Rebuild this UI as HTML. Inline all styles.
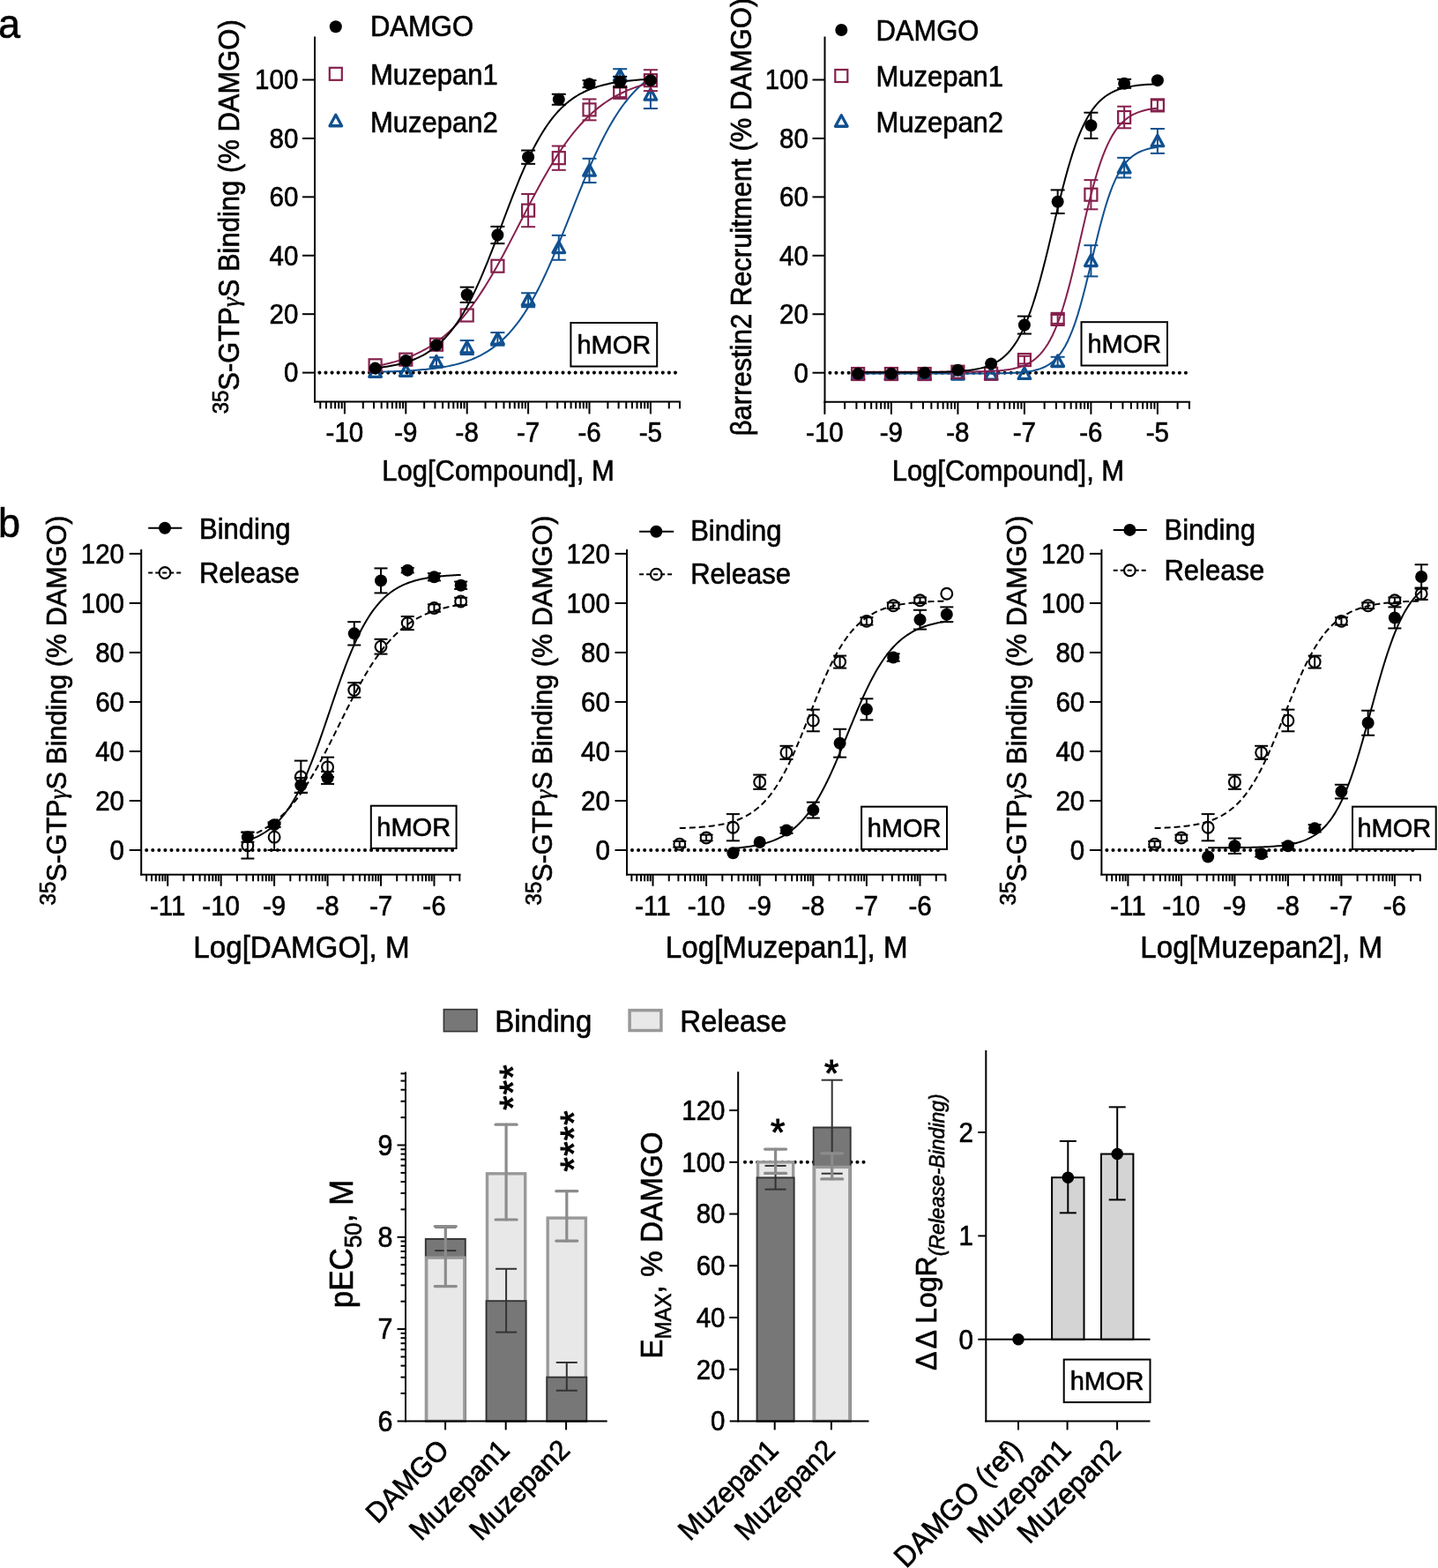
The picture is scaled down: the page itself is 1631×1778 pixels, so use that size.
<!DOCTYPE html><html><head><meta charset="utf-8"><style>html,body{margin:0;padding:0;background:#fff;}svg{display:block}</style></head><body><svg width="1631" height="1778" viewBox="0 0 1631 1778" font-family='"Liberation Sans", Arial, Helvetica, sans-serif'>
<style>text{stroke:#000;stroke-width:0.6px}text.st{stroke-width:1.0px}</style>
<rect width="1631" height="1778" fill="#fff"/>
<text transform="translate(-2,42.5) scale(1,1.045)" font-size="45" text-anchor="start" fill="#000" >a</text>
<line x1="357" y1="41.4" x2="357" y2="456.4" stroke="#000" stroke-width="2.0" />
<line x1="343" y1="422.6" x2="357" y2="422.6" stroke="#000" stroke-width="2.0" />
<text transform="translate(338.3,433.49) scale(1,1.07)" font-size="29.5" text-anchor="end" fill="#000" >0</text>
<line x1="343" y1="356.18" x2="357" y2="356.18" stroke="#000" stroke-width="2.0" />
<text transform="translate(338.3,367.07) scale(1,1.07)" font-size="29.5" text-anchor="end" fill="#000" >20</text>
<line x1="343" y1="289.76" x2="357" y2="289.76" stroke="#000" stroke-width="2.0" />
<text transform="translate(338.3,300.65) scale(1,1.07)" font-size="29.5" text-anchor="end" fill="#000" >40</text>
<line x1="343" y1="223.34" x2="357" y2="223.34" stroke="#000" stroke-width="2.0" />
<text transform="translate(338.3,234.23) scale(1,1.07)" font-size="29.5" text-anchor="end" fill="#000" >60</text>
<line x1="343" y1="156.92" x2="357" y2="156.92" stroke="#000" stroke-width="2.0" />
<text transform="translate(338.3,167.81) scale(1,1.07)" font-size="29.5" text-anchor="end" fill="#000" >80</text>
<line x1="343" y1="90.5" x2="357" y2="90.5" stroke="#000" stroke-width="2.0" />
<text transform="translate(338.3,101.39) scale(1,1.07)" font-size="29.5" text-anchor="end" fill="#000" >100</text>
<line x1="356" y1="455.4" x2="771.9" y2="455.4" stroke="#000" stroke-width="2.0" />
<line x1="363.28" y1="455.4" x2="363.28" y2="463.4" stroke="#000" stroke-width="2.0" />
<line x1="370.01" y1="455.4" x2="370.01" y2="463.4" stroke="#000" stroke-width="2.0" />
<line x1="375.5" y1="455.4" x2="375.5" y2="463.4" stroke="#000" stroke-width="2.0" />
<line x1="380.15" y1="455.4" x2="380.15" y2="463.4" stroke="#000" stroke-width="2.0" />
<line x1="384.17" y1="455.4" x2="384.17" y2="463.4" stroke="#000" stroke-width="2.0" />
<line x1="387.72" y1="455.4" x2="387.72" y2="463.4" stroke="#000" stroke-width="2.0" />
<line x1="390.9" y1="455.4" x2="390.9" y2="469.4" stroke="#000" stroke-width="2.0" />
<line x1="411.79" y1="455.4" x2="411.79" y2="463.4" stroke="#000" stroke-width="2.0" />
<line x1="424.01" y1="455.4" x2="424.01" y2="463.4" stroke="#000" stroke-width="2.0" />
<line x1="432.68" y1="455.4" x2="432.68" y2="463.4" stroke="#000" stroke-width="2.0" />
<line x1="439.41" y1="455.4" x2="439.41" y2="463.4" stroke="#000" stroke-width="2.0" />
<line x1="444.9" y1="455.4" x2="444.9" y2="463.4" stroke="#000" stroke-width="2.0" />
<line x1="449.55" y1="455.4" x2="449.55" y2="463.4" stroke="#000" stroke-width="2.0" />
<line x1="453.57" y1="455.4" x2="453.57" y2="463.4" stroke="#000" stroke-width="2.0" />
<line x1="457.12" y1="455.4" x2="457.12" y2="463.4" stroke="#000" stroke-width="2.0" />
<line x1="460.3" y1="455.4" x2="460.3" y2="469.4" stroke="#000" stroke-width="2.0" />
<line x1="481.19" y1="455.4" x2="481.19" y2="463.4" stroke="#000" stroke-width="2.0" />
<line x1="493.41" y1="455.4" x2="493.41" y2="463.4" stroke="#000" stroke-width="2.0" />
<line x1="502.08" y1="455.4" x2="502.08" y2="463.4" stroke="#000" stroke-width="2.0" />
<line x1="508.81" y1="455.4" x2="508.81" y2="463.4" stroke="#000" stroke-width="2.0" />
<line x1="514.3" y1="455.4" x2="514.3" y2="463.4" stroke="#000" stroke-width="2.0" />
<line x1="518.95" y1="455.4" x2="518.95" y2="463.4" stroke="#000" stroke-width="2.0" />
<line x1="522.97" y1="455.4" x2="522.97" y2="463.4" stroke="#000" stroke-width="2.0" />
<line x1="526.52" y1="455.4" x2="526.52" y2="463.4" stroke="#000" stroke-width="2.0" />
<line x1="529.7" y1="455.4" x2="529.7" y2="469.4" stroke="#000" stroke-width="2.0" />
<line x1="550.59" y1="455.4" x2="550.59" y2="463.4" stroke="#000" stroke-width="2.0" />
<line x1="562.81" y1="455.4" x2="562.81" y2="463.4" stroke="#000" stroke-width="2.0" />
<line x1="571.48" y1="455.4" x2="571.48" y2="463.4" stroke="#000" stroke-width="2.0" />
<line x1="578.21" y1="455.4" x2="578.21" y2="463.4" stroke="#000" stroke-width="2.0" />
<line x1="583.7" y1="455.4" x2="583.7" y2="463.4" stroke="#000" stroke-width="2.0" />
<line x1="588.35" y1="455.4" x2="588.35" y2="463.4" stroke="#000" stroke-width="2.0" />
<line x1="592.37" y1="455.4" x2="592.37" y2="463.4" stroke="#000" stroke-width="2.0" />
<line x1="595.92" y1="455.4" x2="595.92" y2="463.4" stroke="#000" stroke-width="2.0" />
<line x1="599.1" y1="455.4" x2="599.1" y2="469.4" stroke="#000" stroke-width="2.0" />
<line x1="619.99" y1="455.4" x2="619.99" y2="463.4" stroke="#000" stroke-width="2.0" />
<line x1="632.21" y1="455.4" x2="632.21" y2="463.4" stroke="#000" stroke-width="2.0" />
<line x1="640.88" y1="455.4" x2="640.88" y2="463.4" stroke="#000" stroke-width="2.0" />
<line x1="647.61" y1="455.4" x2="647.61" y2="463.4" stroke="#000" stroke-width="2.0" />
<line x1="653.1" y1="455.4" x2="653.1" y2="463.4" stroke="#000" stroke-width="2.0" />
<line x1="657.75" y1="455.4" x2="657.75" y2="463.4" stroke="#000" stroke-width="2.0" />
<line x1="661.77" y1="455.4" x2="661.77" y2="463.4" stroke="#000" stroke-width="2.0" />
<line x1="665.32" y1="455.4" x2="665.32" y2="463.4" stroke="#000" stroke-width="2.0" />
<line x1="668.5" y1="455.4" x2="668.5" y2="469.4" stroke="#000" stroke-width="2.0" />
<line x1="689.39" y1="455.4" x2="689.39" y2="463.4" stroke="#000" stroke-width="2.0" />
<line x1="701.61" y1="455.4" x2="701.61" y2="463.4" stroke="#000" stroke-width="2.0" />
<line x1="710.28" y1="455.4" x2="710.28" y2="463.4" stroke="#000" stroke-width="2.0" />
<line x1="717.01" y1="455.4" x2="717.01" y2="463.4" stroke="#000" stroke-width="2.0" />
<line x1="722.5" y1="455.4" x2="722.5" y2="463.4" stroke="#000" stroke-width="2.0" />
<line x1="727.15" y1="455.4" x2="727.15" y2="463.4" stroke="#000" stroke-width="2.0" />
<line x1="731.17" y1="455.4" x2="731.17" y2="463.4" stroke="#000" stroke-width="2.0" />
<line x1="734.72" y1="455.4" x2="734.72" y2="463.4" stroke="#000" stroke-width="2.0" />
<line x1="737.9" y1="455.4" x2="737.9" y2="469.4" stroke="#000" stroke-width="2.0" />
<line x1="758.79" y1="455.4" x2="758.79" y2="463.4" stroke="#000" stroke-width="2.0" />
<line x1="771.01" y1="455.4" x2="771.01" y2="463.4" stroke="#000" stroke-width="2.0" />
<text transform="translate(390.9,501.2) scale(1,1.07)" font-size="29.5" text-anchor="middle" fill="#000" >-10</text>
<text transform="translate(460.3,501.2) scale(1,1.07)" font-size="29.5" text-anchor="middle" fill="#000" >-9</text>
<text transform="translate(529.7,501.2) scale(1,1.07)" font-size="29.5" text-anchor="middle" fill="#000" >-8</text>
<text transform="translate(599.1,501.2) scale(1,1.07)" font-size="29.5" text-anchor="middle" fill="#000" >-7</text>
<text transform="translate(668.5,501.2) scale(1,1.07)" font-size="29.5" text-anchor="middle" fill="#000" >-6</text>
<text transform="translate(737.9,501.2) scale(1,1.07)" font-size="29.5" text-anchor="middle" fill="#000" >-5</text>
<text transform="translate(565,544.6) scale(1,1.045)" font-size="31" text-anchor="middle" fill="#000" >Log[Compound], M</text>
<line x1="935.5" y1="41.4" x2="935.5" y2="456.8" stroke="#000" stroke-width="2.0" />
<line x1="921.5" y1="422.7" x2="935.5" y2="422.7" stroke="#000" stroke-width="2.0" />
<text transform="translate(916.9,433.59) scale(1,1.07)" font-size="29.5" text-anchor="end" fill="#000" >0</text>
<line x1="921.5" y1="356.26" x2="935.5" y2="356.26" stroke="#000" stroke-width="2.0" />
<text transform="translate(916.9,367.15) scale(1,1.07)" font-size="29.5" text-anchor="end" fill="#000" >20</text>
<line x1="921.5" y1="289.82" x2="935.5" y2="289.82" stroke="#000" stroke-width="2.0" />
<text transform="translate(916.9,300.71) scale(1,1.07)" font-size="29.5" text-anchor="end" fill="#000" >40</text>
<line x1="921.5" y1="223.38" x2="935.5" y2="223.38" stroke="#000" stroke-width="2.0" />
<text transform="translate(916.9,234.27) scale(1,1.07)" font-size="29.5" text-anchor="end" fill="#000" >60</text>
<line x1="921.5" y1="156.94" x2="935.5" y2="156.94" stroke="#000" stroke-width="2.0" />
<text transform="translate(916.9,167.83) scale(1,1.07)" font-size="29.5" text-anchor="end" fill="#000" >80</text>
<line x1="921.5" y1="90.5" x2="935.5" y2="90.5" stroke="#000" stroke-width="2.0" />
<text transform="translate(916.9,101.39) scale(1,1.07)" font-size="29.5" text-anchor="end" fill="#000" >100</text>
<line x1="934.5" y1="455.8" x2="1350.1" y2="455.8" stroke="#000" stroke-width="2.0" />
<line x1="935.4" y1="455.8" x2="935.4" y2="469.8" stroke="#000" stroke-width="2.0" />
<line x1="958.13" y1="455.8" x2="958.13" y2="463.8" stroke="#000" stroke-width="2.0" />
<line x1="971.42" y1="455.8" x2="971.42" y2="463.8" stroke="#000" stroke-width="2.0" />
<line x1="980.86" y1="455.8" x2="980.86" y2="463.8" stroke="#000" stroke-width="2.0" />
<line x1="988.17" y1="455.8" x2="988.17" y2="463.8" stroke="#000" stroke-width="2.0" />
<line x1="994.15" y1="455.8" x2="994.15" y2="463.8" stroke="#000" stroke-width="2.0" />
<line x1="999.2" y1="455.8" x2="999.2" y2="463.8" stroke="#000" stroke-width="2.0" />
<line x1="1003.58" y1="455.8" x2="1003.58" y2="463.8" stroke="#000" stroke-width="2.0" />
<line x1="1007.45" y1="455.8" x2="1007.45" y2="463.8" stroke="#000" stroke-width="2.0" />
<line x1="1010.9" y1="455.8" x2="1010.9" y2="469.8" stroke="#000" stroke-width="2.0" />
<line x1="1033.63" y1="455.8" x2="1033.63" y2="463.8" stroke="#000" stroke-width="2.0" />
<line x1="1046.92" y1="455.8" x2="1046.92" y2="463.8" stroke="#000" stroke-width="2.0" />
<line x1="1056.36" y1="455.8" x2="1056.36" y2="463.8" stroke="#000" stroke-width="2.0" />
<line x1="1063.67" y1="455.8" x2="1063.67" y2="463.8" stroke="#000" stroke-width="2.0" />
<line x1="1069.65" y1="455.8" x2="1069.65" y2="463.8" stroke="#000" stroke-width="2.0" />
<line x1="1074.7" y1="455.8" x2="1074.7" y2="463.8" stroke="#000" stroke-width="2.0" />
<line x1="1079.08" y1="455.8" x2="1079.08" y2="463.8" stroke="#000" stroke-width="2.0" />
<line x1="1082.95" y1="455.8" x2="1082.95" y2="463.8" stroke="#000" stroke-width="2.0" />
<line x1="1086.4" y1="455.8" x2="1086.4" y2="469.8" stroke="#000" stroke-width="2.0" />
<line x1="1109.13" y1="455.8" x2="1109.13" y2="463.8" stroke="#000" stroke-width="2.0" />
<line x1="1122.42" y1="455.8" x2="1122.42" y2="463.8" stroke="#000" stroke-width="2.0" />
<line x1="1131.86" y1="455.8" x2="1131.86" y2="463.8" stroke="#000" stroke-width="2.0" />
<line x1="1139.17" y1="455.8" x2="1139.17" y2="463.8" stroke="#000" stroke-width="2.0" />
<line x1="1145.15" y1="455.8" x2="1145.15" y2="463.8" stroke="#000" stroke-width="2.0" />
<line x1="1150.2" y1="455.8" x2="1150.2" y2="463.8" stroke="#000" stroke-width="2.0" />
<line x1="1154.58" y1="455.8" x2="1154.58" y2="463.8" stroke="#000" stroke-width="2.0" />
<line x1="1158.45" y1="455.8" x2="1158.45" y2="463.8" stroke="#000" stroke-width="2.0" />
<line x1="1161.9" y1="455.8" x2="1161.9" y2="469.8" stroke="#000" stroke-width="2.0" />
<line x1="1184.63" y1="455.8" x2="1184.63" y2="463.8" stroke="#000" stroke-width="2.0" />
<line x1="1197.92" y1="455.8" x2="1197.92" y2="463.8" stroke="#000" stroke-width="2.0" />
<line x1="1207.36" y1="455.8" x2="1207.36" y2="463.8" stroke="#000" stroke-width="2.0" />
<line x1="1214.67" y1="455.8" x2="1214.67" y2="463.8" stroke="#000" stroke-width="2.0" />
<line x1="1220.65" y1="455.8" x2="1220.65" y2="463.8" stroke="#000" stroke-width="2.0" />
<line x1="1225.7" y1="455.8" x2="1225.7" y2="463.8" stroke="#000" stroke-width="2.0" />
<line x1="1230.08" y1="455.8" x2="1230.08" y2="463.8" stroke="#000" stroke-width="2.0" />
<line x1="1233.95" y1="455.8" x2="1233.95" y2="463.8" stroke="#000" stroke-width="2.0" />
<line x1="1237.4" y1="455.8" x2="1237.4" y2="469.8" stroke="#000" stroke-width="2.0" />
<line x1="1260.13" y1="455.8" x2="1260.13" y2="463.8" stroke="#000" stroke-width="2.0" />
<line x1="1273.42" y1="455.8" x2="1273.42" y2="463.8" stroke="#000" stroke-width="2.0" />
<line x1="1282.86" y1="455.8" x2="1282.86" y2="463.8" stroke="#000" stroke-width="2.0" />
<line x1="1290.17" y1="455.8" x2="1290.17" y2="463.8" stroke="#000" stroke-width="2.0" />
<line x1="1296.15" y1="455.8" x2="1296.15" y2="463.8" stroke="#000" stroke-width="2.0" />
<line x1="1301.2" y1="455.8" x2="1301.2" y2="463.8" stroke="#000" stroke-width="2.0" />
<line x1="1305.58" y1="455.8" x2="1305.58" y2="463.8" stroke="#000" stroke-width="2.0" />
<line x1="1309.45" y1="455.8" x2="1309.45" y2="463.8" stroke="#000" stroke-width="2.0" />
<line x1="1312.9" y1="455.8" x2="1312.9" y2="469.8" stroke="#000" stroke-width="2.0" />
<line x1="1335.63" y1="455.8" x2="1335.63" y2="463.8" stroke="#000" stroke-width="2.0" />
<line x1="1348.92" y1="455.8" x2="1348.92" y2="463.8" stroke="#000" stroke-width="2.0" />
<text transform="translate(935.4,501.2) scale(1,1.07)" font-size="29.5" text-anchor="middle" fill="#000" >-10</text>
<text transform="translate(1010.9,501.2) scale(1,1.07)" font-size="29.5" text-anchor="middle" fill="#000" >-9</text>
<text transform="translate(1086.4,501.2) scale(1,1.07)" font-size="29.5" text-anchor="middle" fill="#000" >-8</text>
<text transform="translate(1161.9,501.2) scale(1,1.07)" font-size="29.5" text-anchor="middle" fill="#000" >-7</text>
<text transform="translate(1237.4,501.2) scale(1,1.07)" font-size="29.5" text-anchor="middle" fill="#000" >-6</text>
<text transform="translate(1312.9,501.2) scale(1,1.07)" font-size="29.5" text-anchor="middle" fill="#000" >-5</text>
<text transform="translate(1143.4,544.6) scale(1,1.045)" font-size="31" text-anchor="middle" fill="#000" >Log[Compound], M</text>
<line x1="362.4" y1="422.6" x2="768" y2="422.6" stroke="#000" stroke-width="4.1" stroke-linecap="round" stroke-dasharray="0 7.08"/>
<line x1="941.4" y1="422.7" x2="1346" y2="422.7" stroke="#000" stroke-width="4.1" stroke-linecap="round" stroke-dasharray="0 7.08"/>
<rect x="647.4" y="366" width="97.8" height="49.5" fill="#fff" stroke="#000" stroke-width="2.0"/>
<text transform="translate(696.3,400.75) scale(1,1.045)" font-size="29" text-anchor="middle" fill="#000" >hMOR</text>
<rect x="1226.5" y="365.2" width="97.5" height="49.3" fill="#fff" stroke="#000" stroke-width="2.0"/>
<text transform="translate(1275.25,399.86) scale(1,1.045)" font-size="29" text-anchor="middle" fill="#000" >hMOR</text>
<path d="M425.6,421.73 L428.2,421.67 L430.8,421.61 L433.41,421.55 L436.01,421.48 L438.61,421.41 L441.21,421.33 L443.82,421.25 L446.42,421.15 L449.02,421.06 L451.62,420.95 L454.23,420.84 L456.83,420.72 L459.43,420.59 L462.04,420.45 L464.64,420.3 L467.24,420.13 L469.84,419.96 L472.45,419.77 L475.05,419.57 L477.65,419.36 L480.25,419.12 L482.85,418.88 L485.46,418.61 L488.06,418.32 L490.66,418.01 L493.26,417.68 L495.87,417.33 L498.47,416.95 L501.07,416.54 L503.67,416.1 L506.28,415.63 L508.88,415.12 L511.48,414.58 L514.09,414 L516.69,413.38 L519.29,412.71 L521.89,412 L524.5,411.23 L527.1,410.41 L529.7,409.54 L532.3,408.6 L534.9,407.6 L537.51,406.52 L540.11,405.38 L542.71,404.15 L545.31,402.85 L547.92,401.45 L550.52,399.96 L553.12,398.38 L555.73,396.69 L558.33,394.89 L560.93,392.98 L563.53,390.95 L566.13,388.8 L568.74,386.51 L571.34,384.08 L573.94,381.51 L576.54,378.8 L579.15,375.92 L581.75,372.89 L584.35,369.7 L586.96,366.33 L589.56,362.8 L592.16,359.08 L594.76,355.19 L597.37,351.11 L599.97,346.86 L602.57,342.41 L605.17,337.79 L607.77,332.98 L610.38,327.99 L612.98,322.83 L615.58,317.49 L618.19,311.99 L620.79,306.33 L623.39,300.52 L625.99,294.58 L628.6,288.5 L631.2,282.32 L633.8,276.03 L636.4,269.65 L639,263.2 L641.61,256.7 L644.21,250.15 L646.81,243.59 L649.41,237.02 L652.02,230.46 L654.62,223.94 L657.22,217.46 L659.83,211.04 L662.43,204.71 L665.03,198.47 L667.63,192.33 L670.24,186.32 L672.84,180.44 L675.44,174.71 L678.04,169.13 L680.64,163.71 L683.25,158.45 L685.85,153.38 L688.45,148.48 L691.06,143.76 L693.66,139.22 L696.26,134.87 L698.86,130.7 L701.46,126.72 L704.07,122.91 L706.67,119.29 L709.27,115.83 L711.88,112.55 L714.48,109.44 L717.08,106.49 L719.68,103.69 L722.29,101.05 L724.89,98.55 L727.49,96.2 L730.09,93.97 L732.69,91.88 L735.3,89.91 L737.9,88.05" fill="none" stroke="#10508f" stroke-width="2"/>
<line x1="495" y1="405.33" x2="495" y2="415.29" stroke="#10508f" stroke-width="2" stroke-linecap="butt"/>
<line x1="487" y1="405.33" x2="503" y2="405.33" stroke="#10508f" stroke-width="2" stroke-linecap="butt"/>
<line x1="487" y1="415.29" x2="503" y2="415.29" stroke="#10508f" stroke-width="2" stroke-linecap="butt"/>
<line x1="529.7" y1="386.07" x2="529.7" y2="402.01" stroke="#10508f" stroke-width="2" stroke-linecap="butt"/>
<line x1="521.7" y1="386.07" x2="537.7" y2="386.07" stroke="#10508f" stroke-width="2" stroke-linecap="butt"/>
<line x1="521.7" y1="402.01" x2="537.7" y2="402.01" stroke="#10508f" stroke-width="2" stroke-linecap="butt"/>
<line x1="564.4" y1="377.1" x2="564.4" y2="391.71" stroke="#10508f" stroke-width="2" stroke-linecap="butt"/>
<line x1="556.4" y1="377.1" x2="572.4" y2="377.1" stroke="#10508f" stroke-width="2" stroke-linecap="butt"/>
<line x1="556.4" y1="391.71" x2="572.4" y2="391.71" stroke="#10508f" stroke-width="2" stroke-linecap="butt"/>
<line x1="599.1" y1="332.27" x2="599.1" y2="348.21" stroke="#10508f" stroke-width="2" stroke-linecap="butt"/>
<line x1="591.1" y1="332.27" x2="607.1" y2="332.27" stroke="#10508f" stroke-width="2" stroke-linecap="butt"/>
<line x1="591.1" y1="348.21" x2="607.1" y2="348.21" stroke="#10508f" stroke-width="2" stroke-linecap="butt"/>
<line x1="633.8" y1="266.85" x2="633.8" y2="294.74" stroke="#10508f" stroke-width="2" stroke-linecap="butt"/>
<line x1="625.8" y1="266.85" x2="641.8" y2="266.85" stroke="#10508f" stroke-width="2" stroke-linecap="butt"/>
<line x1="625.8" y1="294.74" x2="641.8" y2="294.74" stroke="#10508f" stroke-width="2" stroke-linecap="butt"/>
<line x1="668.5" y1="179.83" x2="668.5" y2="207.07" stroke="#10508f" stroke-width="2" stroke-linecap="butt"/>
<line x1="660.5" y1="179.83" x2="676.5" y2="179.83" stroke="#10508f" stroke-width="2" stroke-linecap="butt"/>
<line x1="660.5" y1="207.07" x2="676.5" y2="207.07" stroke="#10508f" stroke-width="2" stroke-linecap="butt"/>
<line x1="703.2" y1="78.21" x2="703.2" y2="92.82" stroke="#10508f" stroke-width="2" stroke-linecap="butt"/>
<line x1="695.2" y1="78.21" x2="711.2" y2="78.21" stroke="#10508f" stroke-width="2" stroke-linecap="butt"/>
<line x1="695.2" y1="92.82" x2="711.2" y2="92.82" stroke="#10508f" stroke-width="2" stroke-linecap="butt"/>
<line x1="737.9" y1="91.83" x2="737.9" y2="123.05" stroke="#10508f" stroke-width="2" stroke-linecap="butt"/>
<line x1="729.9" y1="91.83" x2="745.9" y2="91.83" stroke="#10508f" stroke-width="2" stroke-linecap="butt"/>
<line x1="729.9" y1="123.05" x2="745.9" y2="123.05" stroke="#10508f" stroke-width="2" stroke-linecap="butt"/>
<polygon points="425.6,414.85 418.8,427.36 432.4,427.36" fill="none" stroke="#10508f" stroke-width="3.3" stroke-linejoin="round"/>
<polygon points="460.3,413.85 453.5,426.36 467.1,426.36" fill="none" stroke="#10508f" stroke-width="3.3" stroke-linejoin="round"/>
<polygon points="495,403.55 488.2,416.07 501.8,416.07" fill="none" stroke="#10508f" stroke-width="3.3" stroke-linejoin="round"/>
<polygon points="529.7,387.28 522.9,399.79 536.5,399.79" fill="none" stroke="#10508f" stroke-width="3.3" stroke-linejoin="round"/>
<polygon points="564.4,377.65 557.6,390.16 571.2,390.16" fill="none" stroke="#10508f" stroke-width="3.3" stroke-linejoin="round"/>
<polygon points="599.1,333.48 592.3,345.99 605.9,345.99" fill="none" stroke="#10508f" stroke-width="3.3" stroke-linejoin="round"/>
<polygon points="633.8,274.04 627,286.55 640.6,286.55" fill="none" stroke="#10508f" stroke-width="3.3" stroke-linejoin="round"/>
<polygon points="668.5,186.69 661.7,199.21 675.3,199.21" fill="none" stroke="#10508f" stroke-width="3.3" stroke-linejoin="round"/>
<polygon points="703.2,78.76 696.4,91.27 710,91.27" fill="none" stroke="#10508f" stroke-width="3.3" stroke-linejoin="round"/>
<polygon points="737.9,100.68 731.1,113.19 744.7,113.19" fill="none" stroke="#10508f" stroke-width="3.3" stroke-linejoin="round"/>
<path d="M425.6,415.22 L428.2,414.75 L430.8,414.26 L433.41,413.73 L436.01,413.18 L438.61,412.59 L441.21,411.97 L443.82,411.32 L446.42,410.62 L449.02,409.89 L451.62,409.12 L454.23,408.3 L456.83,407.44 L459.43,406.53 L462.04,405.57 L464.64,404.56 L467.24,403.49 L469.84,402.36 L472.45,401.18 L475.05,399.93 L477.65,398.61 L480.25,397.23 L482.85,395.77 L485.46,394.24 L488.06,392.63 L490.66,390.94 L493.26,389.17 L495.87,387.31 L498.47,385.37 L501.07,383.33 L503.67,381.19 L506.28,378.96 L508.88,376.63 L511.48,374.19 L514.09,371.65 L516.69,369 L519.29,366.24 L521.89,363.36 L524.5,360.38 L527.1,357.28 L529.7,354.07 L532.3,350.74 L534.9,347.29 L537.51,343.73 L540.11,340.06 L542.71,336.27 L545.31,332.36 L547.92,328.35 L550.52,324.24 L553.12,320.01 L555.73,315.69 L558.33,311.27 L560.93,306.76 L563.53,302.17 L566.13,297.49 L568.74,292.74 L571.34,287.93 L573.94,283.05 L576.54,278.13 L579.15,273.16 L581.75,268.15 L584.35,263.12 L586.96,258.07 L589.56,253.02 L592.16,247.96 L594.76,242.91 L597.37,237.88 L599.97,232.87 L602.57,227.9 L605.17,222.97 L607.77,218.1 L610.38,213.28 L612.98,208.53 L615.58,203.85 L618.19,199.26 L620.79,194.74 L623.39,190.32 L625.99,186 L628.6,181.77 L631.2,177.65 L633.8,173.64 L636.4,169.73 L639,165.94 L641.61,162.26 L644.21,158.7 L646.81,155.25 L649.41,151.92 L652.02,148.7 L654.62,145.6 L657.22,142.61 L659.83,139.74 L662.43,136.97 L665.03,134.32 L667.63,131.77 L670.24,129.34 L672.84,127 L675.44,124.76 L678.04,122.63 L680.64,120.58 L683.25,118.63 L685.85,116.77 L688.45,115 L691.06,113.31 L693.66,111.7 L696.26,110.17 L698.86,108.71 L701.46,107.32 L704.07,106 L706.67,104.75 L709.27,103.57 L711.88,102.44 L714.48,101.37 L717.08,100.35 L719.68,99.39 L722.29,98.48 L724.89,97.62 L727.49,96.8 L730.09,96.03 L732.69,95.29 L735.3,94.6 L737.9,93.94" fill="none" stroke="#85204d" stroke-width="2"/>
<line x1="599.1" y1="220.02" x2="599.1" y2="257.21" stroke="#85204d" stroke-width="2" stroke-linecap="butt"/>
<line x1="591.1" y1="220.02" x2="607.1" y2="220.02" stroke="#85204d" stroke-width="2" stroke-linecap="butt"/>
<line x1="591.1" y1="257.21" x2="607.1" y2="257.21" stroke="#85204d" stroke-width="2" stroke-linecap="butt"/>
<line x1="633.8" y1="165.55" x2="633.8" y2="192.79" stroke="#85204d" stroke-width="2" stroke-linecap="butt"/>
<line x1="625.8" y1="165.55" x2="641.8" y2="165.55" stroke="#85204d" stroke-width="2" stroke-linecap="butt"/>
<line x1="625.8" y1="192.79" x2="641.8" y2="192.79" stroke="#85204d" stroke-width="2" stroke-linecap="butt"/>
<line x1="668.5" y1="112.42" x2="668.5" y2="136.33" stroke="#85204d" stroke-width="2" stroke-linecap="butt"/>
<line x1="660.5" y1="112.42" x2="676.5" y2="112.42" stroke="#85204d" stroke-width="2" stroke-linecap="butt"/>
<line x1="660.5" y1="136.33" x2="676.5" y2="136.33" stroke="#85204d" stroke-width="2" stroke-linecap="butt"/>
<line x1="703.2" y1="99.47" x2="703.2" y2="110.09" stroke="#85204d" stroke-width="2" stroke-linecap="butt"/>
<line x1="695.2" y1="99.47" x2="711.2" y2="99.47" stroke="#85204d" stroke-width="2" stroke-linecap="butt"/>
<line x1="695.2" y1="110.09" x2="711.2" y2="110.09" stroke="#85204d" stroke-width="2" stroke-linecap="butt"/>
<line x1="737.9" y1="79.21" x2="737.9" y2="103.12" stroke="#85204d" stroke-width="2" stroke-linecap="butt"/>
<line x1="729.9" y1="79.21" x2="745.9" y2="79.21" stroke="#85204d" stroke-width="2" stroke-linecap="butt"/>
<line x1="729.9" y1="103.12" x2="745.9" y2="103.12" stroke="#85204d" stroke-width="2" stroke-linecap="butt"/>
<rect x="418.6" y="407.3" width="14" height="14" fill="none" stroke="#85204d" stroke-width="2.2"/>
<rect x="453.3" y="400.66" width="14" height="14" fill="none" stroke="#85204d" stroke-width="2.2"/>
<rect x="488" y="383.72" width="14" height="14" fill="none" stroke="#85204d" stroke-width="2.2"/>
<rect x="522.7" y="350.51" width="14" height="14" fill="none" stroke="#85204d" stroke-width="2.2"/>
<rect x="557.4" y="294.72" width="14" height="14" fill="none" stroke="#85204d" stroke-width="2.2"/>
<rect x="592.1" y="231.62" width="14" height="14" fill="none" stroke="#85204d" stroke-width="2.2"/>
<rect x="626.8" y="172.17" width="14" height="14" fill="none" stroke="#85204d" stroke-width="2.2"/>
<rect x="661.5" y="117.37" width="14" height="14" fill="none" stroke="#85204d" stroke-width="2.2"/>
<rect x="696.2" y="97.78" width="14" height="14" fill="none" stroke="#85204d" stroke-width="2.2"/>
<rect x="730.9" y="84.16" width="14" height="14" fill="none" stroke="#85204d" stroke-width="2.2"/>
<path d="M425.6,417.37 L428.2,417.08 L430.8,416.78 L433.41,416.44 L436.01,416.08 L438.61,415.69 L441.21,415.26 L443.82,414.8 L446.42,414.3 L449.02,413.76 L451.62,413.17 L454.23,412.54 L456.83,411.85 L459.43,411.1 L462.04,410.3 L464.64,409.43 L467.24,408.49 L469.84,407.47 L472.45,406.37 L475.05,405.19 L477.65,403.91 L480.25,402.53 L482.85,401.05 L485.46,399.45 L488.06,397.73 L490.66,395.89 L493.26,393.9 L495.87,391.78 L498.47,389.5 L501.07,387.07 L503.67,384.46 L506.28,381.68 L508.88,378.72 L511.48,375.57 L514.09,372.21 L516.69,368.66 L519.29,364.9 L521.89,360.92 L524.5,356.72 L527.1,352.3 L529.7,347.66 L532.3,342.8 L534.9,337.71 L537.51,332.41 L540.11,326.9 L542.71,321.19 L545.31,315.28 L547.92,309.19 L550.52,302.92 L553.12,296.51 L555.73,289.96 L558.33,283.28 L560.93,276.52 L563.53,269.67 L566.13,262.78 L568.74,255.85 L571.34,248.92 L573.94,242.02 L576.54,235.15 L579.15,228.35 L581.75,221.64 L584.35,215.03 L586.96,208.56 L589.56,202.23 L592.16,196.07 L594.76,190.09 L597.37,184.29 L599.97,178.7 L602.57,173.32 L605.17,168.14 L607.77,163.19 L610.38,158.46 L612.98,153.96 L615.58,149.67 L618.19,145.61 L620.79,141.76 L623.39,138.12 L625.99,134.69 L628.6,131.45 L631.2,128.42 L633.8,125.56 L636.4,122.89 L639,120.39 L641.61,118.05 L644.21,115.86 L646.81,113.83 L649.41,111.93 L652.02,110.16 L654.62,108.51 L657.22,106.99 L659.83,105.57 L662.43,104.25 L665.03,103.03 L667.63,101.89 L670.24,100.85 L672.84,99.87 L675.44,98.98 L678.04,98.15 L680.64,97.38 L683.25,96.67 L685.85,96.01 L688.45,95.41 L691.06,94.85 L693.66,94.33 L696.26,93.85 L698.86,93.41 L701.46,93.01 L704.07,92.63 L706.67,92.29 L709.27,91.97 L711.88,91.68 L714.48,91.41 L717.08,91.16 L719.68,90.93 L722.29,90.72 L724.89,90.53 L727.49,90.35 L730.09,90.18 L732.69,90.03 L735.3,89.89 L737.9,89.76" fill="none" stroke="#000" stroke-width="2"/>
<line x1="529.7" y1="325.63" x2="529.7" y2="342.9" stroke="#000" stroke-width="2" stroke-linecap="butt"/>
<line x1="521.7" y1="325.63" x2="537.7" y2="325.63" stroke="#000" stroke-width="2" stroke-linecap="butt"/>
<line x1="521.7" y1="342.9" x2="537.7" y2="342.9" stroke="#000" stroke-width="2" stroke-linecap="butt"/>
<line x1="564.4" y1="256.88" x2="564.4" y2="276.14" stroke="#000" stroke-width="2" stroke-linecap="butt"/>
<line x1="556.4" y1="256.88" x2="572.4" y2="256.88" stroke="#000" stroke-width="2" stroke-linecap="butt"/>
<line x1="556.4" y1="276.14" x2="572.4" y2="276.14" stroke="#000" stroke-width="2" stroke-linecap="butt"/>
<line x1="599.1" y1="170.54" x2="599.1" y2="185.81" stroke="#000" stroke-width="2" stroke-linecap="butt"/>
<line x1="591.1" y1="170.54" x2="607.1" y2="170.54" stroke="#000" stroke-width="2" stroke-linecap="butt"/>
<line x1="591.1" y1="185.81" x2="607.1" y2="185.81" stroke="#000" stroke-width="2" stroke-linecap="butt"/>
<line x1="633.8" y1="106.77" x2="633.8" y2="118.73" stroke="#000" stroke-width="2" stroke-linecap="butt"/>
<line x1="625.8" y1="106.77" x2="641.8" y2="106.77" stroke="#000" stroke-width="2" stroke-linecap="butt"/>
<line x1="625.8" y1="118.73" x2="641.8" y2="118.73" stroke="#000" stroke-width="2" stroke-linecap="butt"/>
<line x1="668.5" y1="91.16" x2="668.5" y2="99.13" stroke="#000" stroke-width="2" stroke-linecap="butt"/>
<line x1="660.5" y1="91.16" x2="676.5" y2="91.16" stroke="#000" stroke-width="2" stroke-linecap="butt"/>
<line x1="660.5" y1="99.13" x2="676.5" y2="99.13" stroke="#000" stroke-width="2" stroke-linecap="butt"/>
<line x1="703.2" y1="86.85" x2="703.2" y2="98.8" stroke="#000" stroke-width="2" stroke-linecap="butt"/>
<line x1="695.2" y1="86.85" x2="711.2" y2="86.85" stroke="#000" stroke-width="2" stroke-linecap="butt"/>
<line x1="695.2" y1="98.8" x2="711.2" y2="98.8" stroke="#000" stroke-width="2" stroke-linecap="butt"/>
<circle cx="425.6" cy="417.62" r="7" fill="#000"/>
<circle cx="460.3" cy="408.98" r="7" fill="#000"/>
<circle cx="495" cy="391.38" r="7" fill="#000"/>
<circle cx="529.7" cy="334.26" r="7" fill="#000"/>
<circle cx="564.4" cy="266.51" r="7" fill="#000"/>
<circle cx="599.1" cy="178.17" r="7" fill="#000"/>
<circle cx="633.8" cy="112.75" r="7" fill="#000"/>
<circle cx="668.5" cy="95.15" r="7" fill="#000"/>
<circle cx="703.2" cy="92.82" r="7" fill="#000"/>
<circle cx="737.9" cy="91.16" r="7" fill="#000"/>
<path d="M973.15,423.58 L975.98,423.58 L978.81,423.58 L981.64,423.58 L984.48,423.58 L987.31,423.58 L990.14,423.58 L992.97,423.58 L995.8,423.58 L998.63,423.58 L1001.46,423.58 L1004.29,423.58 L1007.12,423.58 L1009.96,423.58 L1012.79,423.58 L1015.62,423.58 L1018.45,423.58 L1021.28,423.58 L1024.11,423.58 L1026.94,423.58 L1029.78,423.58 L1032.61,423.58 L1035.44,423.58 L1038.27,423.58 L1041.1,423.58 L1043.93,423.58 L1046.76,423.58 L1049.59,423.58 L1052.42,423.58 L1055.26,423.58 L1058.09,423.58 L1060.92,423.57 L1063.75,423.57 L1066.58,423.57 L1069.41,423.57 L1072.24,423.57 L1075.08,423.57 L1077.91,423.57 L1080.74,423.57 L1083.57,423.57 L1086.4,423.56 L1089.23,423.56 L1092.06,423.56 L1094.89,423.56 L1097.72,423.55 L1100.56,423.55 L1103.39,423.54 L1106.22,423.53 L1109.05,423.52 L1111.88,423.51 L1114.71,423.5 L1117.54,423.48 L1120.38,423.46 L1123.21,423.44 L1126.04,423.41 L1128.87,423.38 L1131.7,423.34 L1134.53,423.29 L1137.36,423.23 L1140.19,423.16 L1143.03,423.08 L1145.86,422.97 L1148.69,422.85 L1151.52,422.71 L1154.35,422.53 L1157.18,422.32 L1160.01,422.06 L1162.84,421.76 L1165.67,421.39 L1168.51,420.95 L1171.34,420.42 L1174.17,419.79 L1177,419.03 L1179.83,418.13 L1182.66,417.04 L1185.49,415.76 L1188.33,414.22 L1191.16,412.4 L1193.99,410.25 L1196.82,407.7 L1199.65,404.71 L1202.48,401.21 L1205.31,397.12 L1208.14,392.39 L1210.97,386.95 L1213.81,380.73 L1216.64,373.7 L1219.47,365.82 L1222.3,357.09 L1225.13,347.54 L1227.96,337.24 L1230.79,326.29 L1233.62,314.82 L1236.46,303.01 L1239.29,291.05 L1242.12,279.15 L1244.95,267.5 L1247.78,256.29 L1250.61,245.67 L1253.44,235.76 L1256.28,226.64 L1259.11,218.36 L1261.94,210.94 L1264.77,204.35 L1267.6,198.55 L1270.43,193.49 L1273.26,189.11 L1276.09,185.35 L1278.92,182.12 L1281.76,179.38 L1284.59,177.05 L1287.42,175.08 L1290.25,173.42 L1293.08,172.02 L1295.91,170.85 L1298.74,169.86 L1301.57,169.04 L1304.41,168.35 L1307.24,167.78 L1310.07,167.3 L1312.9,166.9" fill="none" stroke="#10508f" stroke-width="2"/>
<line x1="1199.65" y1="404.76" x2="1199.65" y2="414.73" stroke="#10508f" stroke-width="2" stroke-linecap="butt"/>
<line x1="1191.65" y1="404.76" x2="1207.65" y2="404.76" stroke="#10508f" stroke-width="2" stroke-linecap="butt"/>
<line x1="1191.65" y1="414.73" x2="1207.65" y2="414.73" stroke="#10508f" stroke-width="2" stroke-linecap="butt"/>
<line x1="1237.4" y1="278.19" x2="1237.4" y2="313.41" stroke="#10508f" stroke-width="2" stroke-linecap="butt"/>
<line x1="1229.4" y1="278.19" x2="1245.4" y2="278.19" stroke="#10508f" stroke-width="2" stroke-linecap="butt"/>
<line x1="1229.4" y1="313.41" x2="1245.4" y2="313.41" stroke="#10508f" stroke-width="2" stroke-linecap="butt"/>
<line x1="1275.15" y1="178.87" x2="1275.15" y2="201.45" stroke="#10508f" stroke-width="2" stroke-linecap="butt"/>
<line x1="1267.15" y1="178.87" x2="1283.15" y2="178.87" stroke="#10508f" stroke-width="2" stroke-linecap="butt"/>
<line x1="1267.15" y1="201.45" x2="1283.15" y2="201.45" stroke="#10508f" stroke-width="2" stroke-linecap="butt"/>
<line x1="1312.9" y1="145.98" x2="1312.9" y2="173.88" stroke="#10508f" stroke-width="2" stroke-linecap="butt"/>
<line x1="1304.9" y1="145.98" x2="1320.9" y2="145.98" stroke="#10508f" stroke-width="2" stroke-linecap="butt"/>
<line x1="1304.9" y1="173.88" x2="1320.9" y2="173.88" stroke="#10508f" stroke-width="2" stroke-linecap="butt"/>
<polygon points="973.15,417.6 966.35,430.12 979.95,430.12" fill="none" stroke="#10508f" stroke-width="3.3" stroke-linejoin="round"/>
<polygon points="1010.9,417.6 1004.1,430.12 1017.7,430.12" fill="none" stroke="#10508f" stroke-width="3.3" stroke-linejoin="round"/>
<polygon points="1048.65,417.6 1041.85,430.12 1055.45,430.12" fill="none" stroke="#10508f" stroke-width="3.3" stroke-linejoin="round"/>
<polygon points="1086.4,417.6 1079.6,430.12 1093.2,430.12" fill="none" stroke="#10508f" stroke-width="3.3" stroke-linejoin="round"/>
<polygon points="1124.15,417.6 1117.35,430.12 1130.95,430.12" fill="none" stroke="#10508f" stroke-width="3.3" stroke-linejoin="round"/>
<polygon points="1161.9,416.94 1155.1,429.45 1168.7,429.45" fill="none" stroke="#10508f" stroke-width="3.3" stroke-linejoin="round"/>
<polygon points="1199.65,402.99 1192.85,415.5 1206.45,415.5" fill="none" stroke="#10508f" stroke-width="3.3" stroke-linejoin="round"/>
<polygon points="1237.4,289.04 1230.6,301.55 1244.2,301.55" fill="none" stroke="#10508f" stroke-width="3.3" stroke-linejoin="round"/>
<polygon points="1275.15,183.4 1268.35,195.91 1281.95,195.91" fill="none" stroke="#10508f" stroke-width="3.3" stroke-linejoin="round"/>
<polygon points="1312.9,153.17 1306.1,165.68 1319.7,165.68" fill="none" stroke="#10508f" stroke-width="3.3" stroke-linejoin="round"/>
<path d="M973.15,421.7 L975.98,421.7 L978.81,421.7 L981.64,421.7 L984.48,421.7 L987.31,421.7 L990.14,421.7 L992.97,421.7 L995.8,421.7 L998.63,421.7 L1001.46,421.7 L1004.29,421.7 L1007.12,421.7 L1009.96,421.7 L1012.79,421.7 L1015.62,421.7 L1018.45,421.7 L1021.28,421.7 L1024.11,421.7 L1026.94,421.7 L1029.78,421.7 L1032.61,421.7 L1035.44,421.7 L1038.27,421.7 L1041.1,421.7 L1043.93,421.7 L1046.76,421.69 L1049.59,421.69 L1052.42,421.69 L1055.26,421.69 L1058.09,421.68 L1060.92,421.68 L1063.75,421.68 L1066.58,421.67 L1069.41,421.67 L1072.24,421.66 L1075.08,421.65 L1077.91,421.64 L1080.74,421.63 L1083.57,421.62 L1086.4,421.61 L1089.23,421.59 L1092.06,421.57 L1094.89,421.55 L1097.72,421.52 L1100.56,421.49 L1103.39,421.45 L1106.22,421.4 L1109.05,421.35 L1111.88,421.28 L1114.71,421.21 L1117.54,421.12 L1120.38,421.02 L1123.21,420.9 L1126.04,420.75 L1128.87,420.58 L1131.7,420.39 L1134.53,420.15 L1137.36,419.88 L1140.19,419.55 L1143.03,419.17 L1145.86,418.73 L1148.69,418.2 L1151.52,417.59 L1154.35,416.87 L1157.18,416.02 L1160.01,415.03 L1162.84,413.87 L1165.67,412.52 L1168.51,410.94 L1171.34,409.11 L1174.17,406.97 L1177,404.5 L1179.83,401.64 L1182.66,398.34 L1185.49,394.55 L1188.33,390.22 L1191.16,385.29 L1193.99,379.7 L1196.82,373.42 L1199.65,366.4 L1202.48,358.61 L1205.31,350.04 L1208.14,340.71 L1210.97,330.64 L1213.81,319.91 L1216.64,308.58 L1219.47,296.79 L1222.3,284.67 L1225.13,272.37 L1227.96,260.05 L1230.79,247.88 L1233.62,236.02 L1236.46,224.6 L1239.29,213.75 L1242.12,203.55 L1244.95,194.08 L1247.78,185.37 L1250.61,177.43 L1253.44,170.27 L1256.28,163.85 L1259.11,158.14 L1261.94,153.09 L1264.77,148.65 L1267.6,144.77 L1270.43,141.38 L1273.26,138.44 L1276.09,135.9 L1278.92,133.7 L1281.76,131.81 L1284.59,130.19 L1287.42,128.8 L1290.25,127.6 L1293.08,126.59 L1295.91,125.71 L1298.74,124.97 L1301.57,124.34 L1304.41,123.8 L1307.24,123.34 L1310.07,122.95 L1312.9,122.61" fill="none" stroke="#85204d" stroke-width="2"/>
<line x1="1161.9" y1="403.76" x2="1161.9" y2="412.4" stroke="#85204d" stroke-width="2" stroke-linecap="butt"/>
<line x1="1153.9" y1="403.76" x2="1169.9" y2="403.76" stroke="#85204d" stroke-width="2" stroke-linecap="butt"/>
<line x1="1153.9" y1="412.4" x2="1169.9" y2="412.4" stroke="#85204d" stroke-width="2" stroke-linecap="butt"/>
<line x1="1199.65" y1="356.92" x2="1199.65" y2="366.89" stroke="#85204d" stroke-width="2" stroke-linecap="butt"/>
<line x1="1191.65" y1="356.92" x2="1207.65" y2="356.92" stroke="#85204d" stroke-width="2" stroke-linecap="butt"/>
<line x1="1191.65" y1="366.89" x2="1207.65" y2="366.89" stroke="#85204d" stroke-width="2" stroke-linecap="butt"/>
<line x1="1237.4" y1="204.11" x2="1237.4" y2="237.33" stroke="#85204d" stroke-width="2" stroke-linecap="butt"/>
<line x1="1229.4" y1="204.11" x2="1245.4" y2="204.11" stroke="#85204d" stroke-width="2" stroke-linecap="butt"/>
<line x1="1229.4" y1="237.33" x2="1245.4" y2="237.33" stroke="#85204d" stroke-width="2" stroke-linecap="butt"/>
<line x1="1275.15" y1="120.73" x2="1275.15" y2="145.31" stroke="#85204d" stroke-width="2" stroke-linecap="butt"/>
<line x1="1267.15" y1="120.73" x2="1283.15" y2="120.73" stroke="#85204d" stroke-width="2" stroke-linecap="butt"/>
<line x1="1267.15" y1="145.31" x2="1283.15" y2="145.31" stroke="#85204d" stroke-width="2" stroke-linecap="butt"/>
<line x1="1312.9" y1="113.42" x2="1312.9" y2="125.38" stroke="#85204d" stroke-width="2" stroke-linecap="butt"/>
<line x1="1304.9" y1="113.42" x2="1320.9" y2="113.42" stroke="#85204d" stroke-width="2" stroke-linecap="butt"/>
<line x1="1304.9" y1="125.38" x2="1320.9" y2="125.38" stroke="#85204d" stroke-width="2" stroke-linecap="butt"/>
<rect x="966.15" y="417.03" width="14" height="14" fill="none" stroke="#85204d" stroke-width="2.2"/>
<rect x="1003.9" y="417.03" width="14" height="14" fill="none" stroke="#85204d" stroke-width="2.2"/>
<rect x="1041.65" y="417.03" width="14" height="14" fill="none" stroke="#85204d" stroke-width="2.2"/>
<rect x="1079.4" y="414.7" width="14" height="14" fill="none" stroke="#85204d" stroke-width="2.2"/>
<rect x="1117.15" y="416.7" width="14" height="14" fill="none" stroke="#85204d" stroke-width="2.2"/>
<rect x="1154.9" y="401.08" width="14" height="14" fill="none" stroke="#85204d" stroke-width="2.2"/>
<rect x="1192.65" y="354.91" width="14" height="14" fill="none" stroke="#85204d" stroke-width="2.2"/>
<rect x="1230.4" y="213.72" width="14" height="14" fill="none" stroke="#85204d" stroke-width="2.2"/>
<rect x="1268.15" y="126.02" width="14" height="14" fill="none" stroke="#85204d" stroke-width="2.2"/>
<rect x="1305.9" y="112.4" width="14" height="14" fill="none" stroke="#85204d" stroke-width="2.2"/>
<path d="M973.15,422.3 L975.98,422.3 L978.81,422.3 L981.64,422.3 L984.48,422.29 L987.31,422.29 L990.14,422.29 L992.97,422.29 L995.8,422.29 L998.63,422.29 L1001.46,422.29 L1004.29,422.28 L1007.12,422.28 L1009.96,422.28 L1012.79,422.27 L1015.62,422.27 L1018.45,422.26 L1021.28,422.26 L1024.11,422.25 L1026.94,422.24 L1029.78,422.23 L1032.61,422.22 L1035.44,422.21 L1038.27,422.19 L1041.1,422.18 L1043.93,422.16 L1046.76,422.14 L1049.59,422.11 L1052.42,422.08 L1055.26,422.05 L1058.09,422 L1060.92,421.96 L1063.75,421.9 L1066.58,421.84 L1069.41,421.77 L1072.24,421.69 L1075.08,421.59 L1077.91,421.48 L1080.74,421.35 L1083.57,421.2 L1086.4,421.03 L1089.23,420.84 L1092.06,420.61 L1094.89,420.34 L1097.72,420.04 L1100.56,419.69 L1103.39,419.28 L1106.22,418.81 L1109.05,418.27 L1111.88,417.65 L1114.71,416.93 L1117.54,416.11 L1120.38,415.16 L1123.21,414.07 L1126.04,412.82 L1128.87,411.38 L1131.7,409.73 L1134.53,407.85 L1137.36,405.7 L1140.19,403.25 L1143.03,400.46 L1145.86,397.3 L1148.69,393.73 L1151.52,389.69 L1154.35,385.16 L1157.18,380.09 L1160.01,374.44 L1162.84,368.18 L1165.67,361.28 L1168.51,353.72 L1171.34,345.49 L1174.17,336.6 L1177,327.07 L1179.83,316.94 L1182.66,306.27 L1185.49,295.14 L1188.33,283.64 L1191.16,271.88 L1193.99,259.98 L1196.82,248.07 L1199.65,236.26 L1202.48,224.68 L1205.31,213.44 L1208.14,202.64 L1210.97,192.36 L1213.81,182.67 L1216.64,173.61 L1219.47,165.2 L1222.3,157.46 L1225.13,150.38 L1227.96,143.95 L1230.79,138.14 L1233.62,132.92 L1236.46,128.25 L1239.29,124.09 L1242.12,120.4 L1244.95,117.13 L1247.78,114.25 L1250.61,111.71 L1253.44,109.48 L1256.28,107.53 L1259.11,105.83 L1261.94,104.34 L1264.77,103.04 L1267.6,101.9 L1270.43,100.92 L1273.26,100.06 L1276.09,99.32 L1278.92,98.67 L1281.76,98.11 L1284.59,97.62 L1287.42,97.2 L1290.25,96.84 L1293.08,96.52 L1295.91,96.25 L1298.74,96.01 L1301.57,95.8 L1304.41,95.63 L1307.24,95.47 L1310.07,95.34 L1312.9,95.22" fill="none" stroke="#000" stroke-width="2"/>
<line x1="1161.9" y1="358.59" x2="1161.9" y2="378.52" stroke="#000" stroke-width="2" stroke-linecap="butt"/>
<line x1="1153.9" y1="358.59" x2="1169.9" y2="358.59" stroke="#000" stroke-width="2" stroke-linecap="butt"/>
<line x1="1153.9" y1="378.52" x2="1169.9" y2="378.52" stroke="#000" stroke-width="2" stroke-linecap="butt"/>
<line x1="1199.65" y1="215.41" x2="1199.65" y2="241.98" stroke="#000" stroke-width="2" stroke-linecap="butt"/>
<line x1="1191.65" y1="215.41" x2="1207.65" y2="215.41" stroke="#000" stroke-width="2" stroke-linecap="butt"/>
<line x1="1191.65" y1="241.98" x2="1207.65" y2="241.98" stroke="#000" stroke-width="2" stroke-linecap="butt"/>
<line x1="1237.4" y1="127.71" x2="1237.4" y2="156.94" stroke="#000" stroke-width="2" stroke-linecap="butt"/>
<line x1="1229.4" y1="127.71" x2="1245.4" y2="127.71" stroke="#000" stroke-width="2" stroke-linecap="butt"/>
<line x1="1229.4" y1="156.94" x2="1245.4" y2="156.94" stroke="#000" stroke-width="2" stroke-linecap="butt"/>
<line x1="1275.15" y1="89.84" x2="1275.15" y2="99.8" stroke="#000" stroke-width="2" stroke-linecap="butt"/>
<line x1="1267.15" y1="89.84" x2="1283.15" y2="89.84" stroke="#000" stroke-width="2" stroke-linecap="butt"/>
<line x1="1267.15" y1="99.8" x2="1283.15" y2="99.8" stroke="#000" stroke-width="2" stroke-linecap="butt"/>
<circle cx="973.15" cy="423.7" r="7" fill="#000"/>
<circle cx="1010.9" cy="423.7" r="7" fill="#000"/>
<circle cx="1048.65" cy="422.7" r="7" fill="#000"/>
<circle cx="1086.4" cy="419.71" r="7" fill="#000"/>
<circle cx="1124.15" cy="412.4" r="7" fill="#000"/>
<circle cx="1161.9" cy="368.55" r="7" fill="#000"/>
<circle cx="1199.65" cy="228.7" r="7" fill="#000"/>
<circle cx="1237.4" cy="142.32" r="7" fill="#000"/>
<circle cx="1275.15" cy="94.82" r="7" fill="#000"/>
<circle cx="1312.9" cy="91.16" r="7" fill="#000"/>
<circle cx="380.8" cy="30.3" r="7" fill="#000"/>
<rect x="373.8" y="76.8" width="14" height="14" fill="none" stroke="#85204d" stroke-width="2.2"/>
<polygon points="380.8,130.24 374,142.75 387.6,142.75" fill="none" stroke="#10508f" stroke-width="3.3" stroke-linejoin="round"/>
<text transform="translate(420,41.3) scale(1,1.045)" font-size="31" text-anchor="start" fill="#000" >DAMGO</text>
<text transform="translate(420,96) scale(1,1.045)" font-size="31" text-anchor="start" fill="#000" >Muzepan1</text>
<text transform="translate(420,149.7) scale(1,1.045)" font-size="31" text-anchor="start" fill="#000" >Muzepan2</text>
<circle cx="954.3" cy="34" r="7" fill="#000"/>
<rect x="947.3" y="79" width="14" height="14" fill="none" stroke="#85204d" stroke-width="2.2"/>
<polygon points="954.3,130.74 947.5,143.25 961.1,143.25" fill="none" stroke="#10508f" stroke-width="3.3" stroke-linejoin="round"/>
<text transform="translate(993.4,45.6) scale(1,1.045)" font-size="31" text-anchor="start" fill="#000" >DAMGO</text>
<text transform="translate(993.4,98.4) scale(1,1.045)" font-size="31" text-anchor="start" fill="#000" >Muzepan1</text>
<text transform="translate(993.4,149.9) scale(1,1.045)" font-size="31" text-anchor="start" fill="#000" >Muzepan2</text>
<text transform="translate(270.9,245.8) rotate(-90) scale(1,1.045)" font-size="31" text-anchor="middle"><tspan font-size="24" dy="-11.4">35</tspan><tspan dy="11.4">S-GTP</tspan><tspan font-size="27" font-family="Liberation Serif, serif" font-style="italic">γ</tspan><tspan>S Binding (% DAMGO)</tspan></text>
<text transform="translate(851.5,246) rotate(-90) scale(1,1.045)" font-size="31" text-anchor="middle">βarrestin2 Recruitment (% DAMGO)</text>
<text transform="translate(-2,608.6) scale(1,1.045)" font-size="45" text-anchor="start" fill="#000" >b</text>
<line x1="160.2" y1="623" x2="160.2" y2="992.8" stroke="#000" stroke-width="2.0" />
<line x1="146.7" y1="964" x2="160.2" y2="964" stroke="#000" stroke-width="2.0" />
<text transform="translate(141,974.89) scale(1,1.07)" font-size="29.5" text-anchor="end" fill="#000" >0</text>
<line x1="146.7" y1="907.98" x2="160.2" y2="907.98" stroke="#000" stroke-width="2.0" />
<text transform="translate(141,918.87) scale(1,1.07)" font-size="29.5" text-anchor="end" fill="#000" >20</text>
<line x1="146.7" y1="851.96" x2="160.2" y2="851.96" stroke="#000" stroke-width="2.0" />
<text transform="translate(141,862.85) scale(1,1.07)" font-size="29.5" text-anchor="end" fill="#000" >40</text>
<line x1="146.7" y1="795.94" x2="160.2" y2="795.94" stroke="#000" stroke-width="2.0" />
<text transform="translate(141,806.83) scale(1,1.07)" font-size="29.5" text-anchor="end" fill="#000" >60</text>
<line x1="146.7" y1="739.92" x2="160.2" y2="739.92" stroke="#000" stroke-width="2.0" />
<text transform="translate(141,750.81) scale(1,1.07)" font-size="29.5" text-anchor="end" fill="#000" >80</text>
<line x1="146.7" y1="683.9" x2="160.2" y2="683.9" stroke="#000" stroke-width="2.0" />
<text transform="translate(141,694.79) scale(1,1.07)" font-size="29.5" text-anchor="end" fill="#000" >100</text>
<line x1="146.7" y1="627.88" x2="160.2" y2="627.88" stroke="#000" stroke-width="2.0" />
<text transform="translate(141,638.77) scale(1,1.07)" font-size="29.5" text-anchor="end" fill="#000" >120</text>
<line x1="159.2" y1="991.8" x2="522.5" y2="991.8" stroke="#000" stroke-width="2.0" />
<line x1="166.14" y1="991.8" x2="166.14" y2="999.3" stroke="#000" stroke-width="2.0" />
<line x1="172" y1="991.8" x2="172" y2="999.3" stroke="#000" stroke-width="2.0" />
<line x1="176.79" y1="991.8" x2="176.79" y2="999.3" stroke="#000" stroke-width="2.0" />
<line x1="180.84" y1="991.8" x2="180.84" y2="999.3" stroke="#000" stroke-width="2.0" />
<line x1="184.34" y1="991.8" x2="184.34" y2="999.3" stroke="#000" stroke-width="2.0" />
<line x1="187.43" y1="991.8" x2="187.43" y2="999.3" stroke="#000" stroke-width="2.0" />
<line x1="190.2" y1="991.8" x2="190.2" y2="1004.8" stroke="#000" stroke-width="2.0" />
<line x1="208.4" y1="991.8" x2="208.4" y2="999.3" stroke="#000" stroke-width="2.0" />
<line x1="219.04" y1="991.8" x2="219.04" y2="999.3" stroke="#000" stroke-width="2.0" />
<line x1="226.59" y1="991.8" x2="226.59" y2="999.3" stroke="#000" stroke-width="2.0" />
<line x1="232.45" y1="991.8" x2="232.45" y2="999.3" stroke="#000" stroke-width="2.0" />
<line x1="237.24" y1="991.8" x2="237.24" y2="999.3" stroke="#000" stroke-width="2.0" />
<line x1="241.29" y1="991.8" x2="241.29" y2="999.3" stroke="#000" stroke-width="2.0" />
<line x1="244.79" y1="991.8" x2="244.79" y2="999.3" stroke="#000" stroke-width="2.0" />
<line x1="247.88" y1="991.8" x2="247.88" y2="999.3" stroke="#000" stroke-width="2.0" />
<line x1="250.65" y1="991.8" x2="250.65" y2="1004.8" stroke="#000" stroke-width="2.0" />
<line x1="268.85" y1="991.8" x2="268.85" y2="999.3" stroke="#000" stroke-width="2.0" />
<line x1="279.49" y1="991.8" x2="279.49" y2="999.3" stroke="#000" stroke-width="2.0" />
<line x1="287.04" y1="991.8" x2="287.04" y2="999.3" stroke="#000" stroke-width="2.0" />
<line x1="292.9" y1="991.8" x2="292.9" y2="999.3" stroke="#000" stroke-width="2.0" />
<line x1="297.69" y1="991.8" x2="297.69" y2="999.3" stroke="#000" stroke-width="2.0" />
<line x1="301.74" y1="991.8" x2="301.74" y2="999.3" stroke="#000" stroke-width="2.0" />
<line x1="305.24" y1="991.8" x2="305.24" y2="999.3" stroke="#000" stroke-width="2.0" />
<line x1="308.33" y1="991.8" x2="308.33" y2="999.3" stroke="#000" stroke-width="2.0" />
<line x1="311.1" y1="991.8" x2="311.1" y2="1004.8" stroke="#000" stroke-width="2.0" />
<line x1="329.3" y1="991.8" x2="329.3" y2="999.3" stroke="#000" stroke-width="2.0" />
<line x1="339.94" y1="991.8" x2="339.94" y2="999.3" stroke="#000" stroke-width="2.0" />
<line x1="347.49" y1="991.8" x2="347.49" y2="999.3" stroke="#000" stroke-width="2.0" />
<line x1="353.35" y1="991.8" x2="353.35" y2="999.3" stroke="#000" stroke-width="2.0" />
<line x1="358.14" y1="991.8" x2="358.14" y2="999.3" stroke="#000" stroke-width="2.0" />
<line x1="362.19" y1="991.8" x2="362.19" y2="999.3" stroke="#000" stroke-width="2.0" />
<line x1="365.69" y1="991.8" x2="365.69" y2="999.3" stroke="#000" stroke-width="2.0" />
<line x1="368.78" y1="991.8" x2="368.78" y2="999.3" stroke="#000" stroke-width="2.0" />
<line x1="371.55" y1="991.8" x2="371.55" y2="1004.8" stroke="#000" stroke-width="2.0" />
<line x1="389.75" y1="991.8" x2="389.75" y2="999.3" stroke="#000" stroke-width="2.0" />
<line x1="400.39" y1="991.8" x2="400.39" y2="999.3" stroke="#000" stroke-width="2.0" />
<line x1="407.94" y1="991.8" x2="407.94" y2="999.3" stroke="#000" stroke-width="2.0" />
<line x1="413.8" y1="991.8" x2="413.8" y2="999.3" stroke="#000" stroke-width="2.0" />
<line x1="418.59" y1="991.8" x2="418.59" y2="999.3" stroke="#000" stroke-width="2.0" />
<line x1="422.64" y1="991.8" x2="422.64" y2="999.3" stroke="#000" stroke-width="2.0" />
<line x1="426.14" y1="991.8" x2="426.14" y2="999.3" stroke="#000" stroke-width="2.0" />
<line x1="429.23" y1="991.8" x2="429.23" y2="999.3" stroke="#000" stroke-width="2.0" />
<line x1="432" y1="991.8" x2="432" y2="1004.8" stroke="#000" stroke-width="2.0" />
<line x1="450.2" y1="991.8" x2="450.2" y2="999.3" stroke="#000" stroke-width="2.0" />
<line x1="460.84" y1="991.8" x2="460.84" y2="999.3" stroke="#000" stroke-width="2.0" />
<line x1="468.39" y1="991.8" x2="468.39" y2="999.3" stroke="#000" stroke-width="2.0" />
<line x1="474.25" y1="991.8" x2="474.25" y2="999.3" stroke="#000" stroke-width="2.0" />
<line x1="479.04" y1="991.8" x2="479.04" y2="999.3" stroke="#000" stroke-width="2.0" />
<line x1="483.09" y1="991.8" x2="483.09" y2="999.3" stroke="#000" stroke-width="2.0" />
<line x1="486.59" y1="991.8" x2="486.59" y2="999.3" stroke="#000" stroke-width="2.0" />
<line x1="489.68" y1="991.8" x2="489.68" y2="999.3" stroke="#000" stroke-width="2.0" />
<line x1="492.45" y1="991.8" x2="492.45" y2="1004.8" stroke="#000" stroke-width="2.0" />
<line x1="510.65" y1="991.8" x2="510.65" y2="999.3" stroke="#000" stroke-width="2.0" />
<line x1="521.29" y1="991.8" x2="521.29" y2="999.3" stroke="#000" stroke-width="2.0" />
<text transform="translate(190.2,1037.5) scale(1,1.07)" font-size="29.5" text-anchor="middle" fill="#000" >-11</text>
<text transform="translate(250.65,1037.5) scale(1,1.07)" font-size="29.5" text-anchor="middle" fill="#000" >-10</text>
<text transform="translate(311.1,1037.5) scale(1,1.07)" font-size="29.5" text-anchor="middle" fill="#000" >-9</text>
<text transform="translate(371.55,1037.5) scale(1,1.07)" font-size="29.5" text-anchor="middle" fill="#000" >-8</text>
<text transform="translate(432,1037.5) scale(1,1.07)" font-size="29.5" text-anchor="middle" fill="#000" >-7</text>
<text transform="translate(492.45,1037.5) scale(1,1.07)" font-size="29.5" text-anchor="middle" fill="#000" >-6</text>
<text transform="translate(341.9,1085.5) scale(1,1.045)" font-size="33.2" text-anchor="middle" fill="#000" >Log[DAMGO], M</text>
<line x1="166.2" y1="964" x2="517.5" y2="964" stroke="#000" stroke-width="4.1" stroke-linecap="round" stroke-dasharray="0 7.08"/>
<line x1="711" y1="623" x2="711" y2="992.8" stroke="#000" stroke-width="2.0" />
<line x1="697.5" y1="964" x2="711" y2="964" stroke="#000" stroke-width="2.0" />
<text transform="translate(691.8,974.89) scale(1,1.07)" font-size="29.5" text-anchor="end" fill="#000" >0</text>
<line x1="697.5" y1="907.98" x2="711" y2="907.98" stroke="#000" stroke-width="2.0" />
<text transform="translate(691.8,918.87) scale(1,1.07)" font-size="29.5" text-anchor="end" fill="#000" >20</text>
<line x1="697.5" y1="851.96" x2="711" y2="851.96" stroke="#000" stroke-width="2.0" />
<text transform="translate(691.8,862.85) scale(1,1.07)" font-size="29.5" text-anchor="end" fill="#000" >40</text>
<line x1="697.5" y1="795.94" x2="711" y2="795.94" stroke="#000" stroke-width="2.0" />
<text transform="translate(691.8,806.83) scale(1,1.07)" font-size="29.5" text-anchor="end" fill="#000" >60</text>
<line x1="697.5" y1="739.92" x2="711" y2="739.92" stroke="#000" stroke-width="2.0" />
<text transform="translate(691.8,750.81) scale(1,1.07)" font-size="29.5" text-anchor="end" fill="#000" >80</text>
<line x1="697.5" y1="683.9" x2="711" y2="683.9" stroke="#000" stroke-width="2.0" />
<text transform="translate(691.8,694.79) scale(1,1.07)" font-size="29.5" text-anchor="end" fill="#000" >100</text>
<line x1="697.5" y1="627.88" x2="711" y2="627.88" stroke="#000" stroke-width="2.0" />
<text transform="translate(691.8,638.77) scale(1,1.07)" font-size="29.5" text-anchor="end" fill="#000" >120</text>
<line x1="710" y1="991.8" x2="1072.8" y2="991.8" stroke="#000" stroke-width="2.0" />
<line x1="716.38" y1="991.8" x2="716.38" y2="999.3" stroke="#000" stroke-width="2.0" />
<line x1="722.26" y1="991.8" x2="722.26" y2="999.3" stroke="#000" stroke-width="2.0" />
<line x1="727.06" y1="991.8" x2="727.06" y2="999.3" stroke="#000" stroke-width="2.0" />
<line x1="731.11" y1="991.8" x2="731.11" y2="999.3" stroke="#000" stroke-width="2.0" />
<line x1="734.63" y1="991.8" x2="734.63" y2="999.3" stroke="#000" stroke-width="2.0" />
<line x1="737.73" y1="991.8" x2="737.73" y2="999.3" stroke="#000" stroke-width="2.0" />
<line x1="740.5" y1="991.8" x2="740.5" y2="1004.8" stroke="#000" stroke-width="2.0" />
<line x1="758.74" y1="991.8" x2="758.74" y2="999.3" stroke="#000" stroke-width="2.0" />
<line x1="769.41" y1="991.8" x2="769.41" y2="999.3" stroke="#000" stroke-width="2.0" />
<line x1="776.98" y1="991.8" x2="776.98" y2="999.3" stroke="#000" stroke-width="2.0" />
<line x1="782.86" y1="991.8" x2="782.86" y2="999.3" stroke="#000" stroke-width="2.0" />
<line x1="787.66" y1="991.8" x2="787.66" y2="999.3" stroke="#000" stroke-width="2.0" />
<line x1="791.71" y1="991.8" x2="791.71" y2="999.3" stroke="#000" stroke-width="2.0" />
<line x1="795.23" y1="991.8" x2="795.23" y2="999.3" stroke="#000" stroke-width="2.0" />
<line x1="798.33" y1="991.8" x2="798.33" y2="999.3" stroke="#000" stroke-width="2.0" />
<line x1="801.1" y1="991.8" x2="801.1" y2="1004.8" stroke="#000" stroke-width="2.0" />
<line x1="819.34" y1="991.8" x2="819.34" y2="999.3" stroke="#000" stroke-width="2.0" />
<line x1="830.01" y1="991.8" x2="830.01" y2="999.3" stroke="#000" stroke-width="2.0" />
<line x1="837.58" y1="991.8" x2="837.58" y2="999.3" stroke="#000" stroke-width="2.0" />
<line x1="843.46" y1="991.8" x2="843.46" y2="999.3" stroke="#000" stroke-width="2.0" />
<line x1="848.26" y1="991.8" x2="848.26" y2="999.3" stroke="#000" stroke-width="2.0" />
<line x1="852.31" y1="991.8" x2="852.31" y2="999.3" stroke="#000" stroke-width="2.0" />
<line x1="855.83" y1="991.8" x2="855.83" y2="999.3" stroke="#000" stroke-width="2.0" />
<line x1="858.93" y1="991.8" x2="858.93" y2="999.3" stroke="#000" stroke-width="2.0" />
<line x1="861.7" y1="991.8" x2="861.7" y2="1004.8" stroke="#000" stroke-width="2.0" />
<line x1="879.94" y1="991.8" x2="879.94" y2="999.3" stroke="#000" stroke-width="2.0" />
<line x1="890.61" y1="991.8" x2="890.61" y2="999.3" stroke="#000" stroke-width="2.0" />
<line x1="898.18" y1="991.8" x2="898.18" y2="999.3" stroke="#000" stroke-width="2.0" />
<line x1="904.06" y1="991.8" x2="904.06" y2="999.3" stroke="#000" stroke-width="2.0" />
<line x1="908.86" y1="991.8" x2="908.86" y2="999.3" stroke="#000" stroke-width="2.0" />
<line x1="912.91" y1="991.8" x2="912.91" y2="999.3" stroke="#000" stroke-width="2.0" />
<line x1="916.43" y1="991.8" x2="916.43" y2="999.3" stroke="#000" stroke-width="2.0" />
<line x1="919.53" y1="991.8" x2="919.53" y2="999.3" stroke="#000" stroke-width="2.0" />
<line x1="922.3" y1="991.8" x2="922.3" y2="1004.8" stroke="#000" stroke-width="2.0" />
<line x1="940.54" y1="991.8" x2="940.54" y2="999.3" stroke="#000" stroke-width="2.0" />
<line x1="951.21" y1="991.8" x2="951.21" y2="999.3" stroke="#000" stroke-width="2.0" />
<line x1="958.78" y1="991.8" x2="958.78" y2="999.3" stroke="#000" stroke-width="2.0" />
<line x1="964.66" y1="991.8" x2="964.66" y2="999.3" stroke="#000" stroke-width="2.0" />
<line x1="969.46" y1="991.8" x2="969.46" y2="999.3" stroke="#000" stroke-width="2.0" />
<line x1="973.51" y1="991.8" x2="973.51" y2="999.3" stroke="#000" stroke-width="2.0" />
<line x1="977.03" y1="991.8" x2="977.03" y2="999.3" stroke="#000" stroke-width="2.0" />
<line x1="980.13" y1="991.8" x2="980.13" y2="999.3" stroke="#000" stroke-width="2.0" />
<line x1="982.9" y1="991.8" x2="982.9" y2="1004.8" stroke="#000" stroke-width="2.0" />
<line x1="1001.14" y1="991.8" x2="1001.14" y2="999.3" stroke="#000" stroke-width="2.0" />
<line x1="1011.81" y1="991.8" x2="1011.81" y2="999.3" stroke="#000" stroke-width="2.0" />
<line x1="1019.38" y1="991.8" x2="1019.38" y2="999.3" stroke="#000" stroke-width="2.0" />
<line x1="1025.26" y1="991.8" x2="1025.26" y2="999.3" stroke="#000" stroke-width="2.0" />
<line x1="1030.06" y1="991.8" x2="1030.06" y2="999.3" stroke="#000" stroke-width="2.0" />
<line x1="1034.11" y1="991.8" x2="1034.11" y2="999.3" stroke="#000" stroke-width="2.0" />
<line x1="1037.63" y1="991.8" x2="1037.63" y2="999.3" stroke="#000" stroke-width="2.0" />
<line x1="1040.73" y1="991.8" x2="1040.73" y2="999.3" stroke="#000" stroke-width="2.0" />
<line x1="1043.5" y1="991.8" x2="1043.5" y2="1004.8" stroke="#000" stroke-width="2.0" />
<line x1="1061.74" y1="991.8" x2="1061.74" y2="999.3" stroke="#000" stroke-width="2.0" />
<line x1="1072.41" y1="991.8" x2="1072.41" y2="999.3" stroke="#000" stroke-width="2.0" />
<text transform="translate(740.5,1037.5) scale(1,1.07)" font-size="29.5" text-anchor="middle" fill="#000" >-11</text>
<text transform="translate(801.1,1037.5) scale(1,1.07)" font-size="29.5" text-anchor="middle" fill="#000" >-10</text>
<text transform="translate(861.7,1037.5) scale(1,1.07)" font-size="29.5" text-anchor="middle" fill="#000" >-9</text>
<text transform="translate(922.3,1037.5) scale(1,1.07)" font-size="29.5" text-anchor="middle" fill="#000" >-8</text>
<text transform="translate(982.9,1037.5) scale(1,1.07)" font-size="29.5" text-anchor="middle" fill="#000" >-7</text>
<text transform="translate(1043.5,1037.5) scale(1,1.07)" font-size="29.5" text-anchor="middle" fill="#000" >-6</text>
<text transform="translate(892.2,1085.5) scale(1,1.045)" font-size="33.2" text-anchor="middle" fill="#000" >Log[Muzepan1], M</text>
<line x1="717" y1="964" x2="1067.8" y2="964" stroke="#000" stroke-width="4.1" stroke-linecap="round" stroke-dasharray="0 7.08"/>
<line x1="1249.4" y1="623" x2="1249.4" y2="992.8" stroke="#000" stroke-width="2.0" />
<line x1="1235.9" y1="964" x2="1249.4" y2="964" stroke="#000" stroke-width="2.0" />
<text transform="translate(1230.2,974.89) scale(1,1.07)" font-size="29.5" text-anchor="end" fill="#000" >0</text>
<line x1="1235.9" y1="907.98" x2="1249.4" y2="907.98" stroke="#000" stroke-width="2.0" />
<text transform="translate(1230.2,918.87) scale(1,1.07)" font-size="29.5" text-anchor="end" fill="#000" >20</text>
<line x1="1235.9" y1="851.96" x2="1249.4" y2="851.96" stroke="#000" stroke-width="2.0" />
<text transform="translate(1230.2,862.85) scale(1,1.07)" font-size="29.5" text-anchor="end" fill="#000" >40</text>
<line x1="1235.9" y1="795.94" x2="1249.4" y2="795.94" stroke="#000" stroke-width="2.0" />
<text transform="translate(1230.2,806.83) scale(1,1.07)" font-size="29.5" text-anchor="end" fill="#000" >60</text>
<line x1="1235.9" y1="739.92" x2="1249.4" y2="739.92" stroke="#000" stroke-width="2.0" />
<text transform="translate(1230.2,750.81) scale(1,1.07)" font-size="29.5" text-anchor="end" fill="#000" >80</text>
<line x1="1235.9" y1="683.9" x2="1249.4" y2="683.9" stroke="#000" stroke-width="2.0" />
<text transform="translate(1230.2,694.79) scale(1,1.07)" font-size="29.5" text-anchor="end" fill="#000" >100</text>
<line x1="1235.9" y1="627.88" x2="1249.4" y2="627.88" stroke="#000" stroke-width="2.0" />
<text transform="translate(1230.2,638.77) scale(1,1.07)" font-size="29.5" text-anchor="end" fill="#000" >120</text>
<line x1="1248.4" y1="991.8" x2="1611.2" y2="991.8" stroke="#000" stroke-width="2.0" />
<line x1="1255.32" y1="991.8" x2="1255.32" y2="999.3" stroke="#000" stroke-width="2.0" />
<line x1="1261.19" y1="991.8" x2="1261.19" y2="999.3" stroke="#000" stroke-width="2.0" />
<line x1="1265.98" y1="991.8" x2="1265.98" y2="999.3" stroke="#000" stroke-width="2.0" />
<line x1="1270.03" y1="991.8" x2="1270.03" y2="999.3" stroke="#000" stroke-width="2.0" />
<line x1="1273.54" y1="991.8" x2="1273.54" y2="999.3" stroke="#000" stroke-width="2.0" />
<line x1="1276.63" y1="991.8" x2="1276.63" y2="999.3" stroke="#000" stroke-width="2.0" />
<line x1="1279.4" y1="991.8" x2="1279.4" y2="1004.8" stroke="#000" stroke-width="2.0" />
<line x1="1297.61" y1="991.8" x2="1297.61" y2="999.3" stroke="#000" stroke-width="2.0" />
<line x1="1308.27" y1="991.8" x2="1308.27" y2="999.3" stroke="#000" stroke-width="2.0" />
<line x1="1315.82" y1="991.8" x2="1315.82" y2="999.3" stroke="#000" stroke-width="2.0" />
<line x1="1321.69" y1="991.8" x2="1321.69" y2="999.3" stroke="#000" stroke-width="2.0" />
<line x1="1326.48" y1="991.8" x2="1326.48" y2="999.3" stroke="#000" stroke-width="2.0" />
<line x1="1330.53" y1="991.8" x2="1330.53" y2="999.3" stroke="#000" stroke-width="2.0" />
<line x1="1334.04" y1="991.8" x2="1334.04" y2="999.3" stroke="#000" stroke-width="2.0" />
<line x1="1337.13" y1="991.8" x2="1337.13" y2="999.3" stroke="#000" stroke-width="2.0" />
<line x1="1339.9" y1="991.8" x2="1339.9" y2="1004.8" stroke="#000" stroke-width="2.0" />
<line x1="1358.11" y1="991.8" x2="1358.11" y2="999.3" stroke="#000" stroke-width="2.0" />
<line x1="1368.77" y1="991.8" x2="1368.77" y2="999.3" stroke="#000" stroke-width="2.0" />
<line x1="1376.32" y1="991.8" x2="1376.32" y2="999.3" stroke="#000" stroke-width="2.0" />
<line x1="1382.19" y1="991.8" x2="1382.19" y2="999.3" stroke="#000" stroke-width="2.0" />
<line x1="1386.98" y1="991.8" x2="1386.98" y2="999.3" stroke="#000" stroke-width="2.0" />
<line x1="1391.03" y1="991.8" x2="1391.03" y2="999.3" stroke="#000" stroke-width="2.0" />
<line x1="1394.54" y1="991.8" x2="1394.54" y2="999.3" stroke="#000" stroke-width="2.0" />
<line x1="1397.63" y1="991.8" x2="1397.63" y2="999.3" stroke="#000" stroke-width="2.0" />
<line x1="1400.4" y1="991.8" x2="1400.4" y2="1004.8" stroke="#000" stroke-width="2.0" />
<line x1="1418.61" y1="991.8" x2="1418.61" y2="999.3" stroke="#000" stroke-width="2.0" />
<line x1="1429.27" y1="991.8" x2="1429.27" y2="999.3" stroke="#000" stroke-width="2.0" />
<line x1="1436.82" y1="991.8" x2="1436.82" y2="999.3" stroke="#000" stroke-width="2.0" />
<line x1="1442.69" y1="991.8" x2="1442.69" y2="999.3" stroke="#000" stroke-width="2.0" />
<line x1="1447.48" y1="991.8" x2="1447.48" y2="999.3" stroke="#000" stroke-width="2.0" />
<line x1="1451.53" y1="991.8" x2="1451.53" y2="999.3" stroke="#000" stroke-width="2.0" />
<line x1="1455.04" y1="991.8" x2="1455.04" y2="999.3" stroke="#000" stroke-width="2.0" />
<line x1="1458.13" y1="991.8" x2="1458.13" y2="999.3" stroke="#000" stroke-width="2.0" />
<line x1="1460.9" y1="991.8" x2="1460.9" y2="1004.8" stroke="#000" stroke-width="2.0" />
<line x1="1479.11" y1="991.8" x2="1479.11" y2="999.3" stroke="#000" stroke-width="2.0" />
<line x1="1489.77" y1="991.8" x2="1489.77" y2="999.3" stroke="#000" stroke-width="2.0" />
<line x1="1497.32" y1="991.8" x2="1497.32" y2="999.3" stroke="#000" stroke-width="2.0" />
<line x1="1503.19" y1="991.8" x2="1503.19" y2="999.3" stroke="#000" stroke-width="2.0" />
<line x1="1507.98" y1="991.8" x2="1507.98" y2="999.3" stroke="#000" stroke-width="2.0" />
<line x1="1512.03" y1="991.8" x2="1512.03" y2="999.3" stroke="#000" stroke-width="2.0" />
<line x1="1515.54" y1="991.8" x2="1515.54" y2="999.3" stroke="#000" stroke-width="2.0" />
<line x1="1518.63" y1="991.8" x2="1518.63" y2="999.3" stroke="#000" stroke-width="2.0" />
<line x1="1521.4" y1="991.8" x2="1521.4" y2="1004.8" stroke="#000" stroke-width="2.0" />
<line x1="1539.61" y1="991.8" x2="1539.61" y2="999.3" stroke="#000" stroke-width="2.0" />
<line x1="1550.27" y1="991.8" x2="1550.27" y2="999.3" stroke="#000" stroke-width="2.0" />
<line x1="1557.82" y1="991.8" x2="1557.82" y2="999.3" stroke="#000" stroke-width="2.0" />
<line x1="1563.69" y1="991.8" x2="1563.69" y2="999.3" stroke="#000" stroke-width="2.0" />
<line x1="1568.48" y1="991.8" x2="1568.48" y2="999.3" stroke="#000" stroke-width="2.0" />
<line x1="1572.53" y1="991.8" x2="1572.53" y2="999.3" stroke="#000" stroke-width="2.0" />
<line x1="1576.04" y1="991.8" x2="1576.04" y2="999.3" stroke="#000" stroke-width="2.0" />
<line x1="1579.13" y1="991.8" x2="1579.13" y2="999.3" stroke="#000" stroke-width="2.0" />
<line x1="1581.9" y1="991.8" x2="1581.9" y2="1004.8" stroke="#000" stroke-width="2.0" />
<line x1="1600.11" y1="991.8" x2="1600.11" y2="999.3" stroke="#000" stroke-width="2.0" />
<line x1="1610.77" y1="991.8" x2="1610.77" y2="999.3" stroke="#000" stroke-width="2.0" />
<text transform="translate(1279.4,1037.5) scale(1,1.07)" font-size="29.5" text-anchor="middle" fill="#000" >-11</text>
<text transform="translate(1339.9,1037.5) scale(1,1.07)" font-size="29.5" text-anchor="middle" fill="#000" >-10</text>
<text transform="translate(1400.4,1037.5) scale(1,1.07)" font-size="29.5" text-anchor="middle" fill="#000" >-9</text>
<text transform="translate(1460.9,1037.5) scale(1,1.07)" font-size="29.5" text-anchor="middle" fill="#000" >-8</text>
<text transform="translate(1521.4,1037.5) scale(1,1.07)" font-size="29.5" text-anchor="middle" fill="#000" >-7</text>
<text transform="translate(1581.9,1037.5) scale(1,1.07)" font-size="29.5" text-anchor="middle" fill="#000" >-6</text>
<text transform="translate(1430.7,1085.5) scale(1,1.045)" font-size="33.2" text-anchor="middle" fill="#000" >Log[Muzepan2], M</text>
<line x1="1255.4" y1="964" x2="1606.2" y2="964" stroke="#000" stroke-width="4.1" stroke-linecap="round" stroke-dasharray="0 7.08"/>
<rect x="420.8" y="913.7" width="96.8" height="48.3" fill="#fff" stroke="#000" stroke-width="2.0"/>
<text transform="translate(469.2,947.86) scale(1,1.045)" font-size="29" text-anchor="middle" fill="#000" >hMOR</text>
<rect x="977.1" y="914.7" width="96.9" height="48.3" fill="#fff" stroke="#000" stroke-width="2.0"/>
<text transform="translate(1025.55,948.86) scale(1,1.045)" font-size="29" text-anchor="middle" fill="#000" >hMOR</text>
<rect x="1534" y="914.7" width="94.7" height="48.3" fill="#fff" stroke="#000" stroke-width="2.0"/>
<text transform="translate(1581.35,948.86) scale(1,1.045)" font-size="29" text-anchor="middle" fill="#000" >hMOR</text>
<path d="M280.88,949.01 L282.89,948.24 L284.9,947.42 L286.92,946.56 L288.93,945.66 L290.95,944.71 L292.96,943.71 L294.98,942.66 L297,941.56 L299.01,940.4 L301.03,939.18 L303.04,937.91 L305.06,936.57 L307.07,935.17 L309.09,933.7 L311.1,932.16 L313.12,930.55 L315.13,928.87 L317.14,927.11 L319.16,925.28 L321.17,923.37 L323.19,921.37 L325.2,919.3 L327.22,917.14 L329.24,914.89 L331.25,912.56 L333.26,910.13 L335.28,907.62 L337.3,905.02 L339.31,902.33 L341.32,899.55 L343.34,896.68 L345.36,893.72 L347.37,890.67 L349.38,887.54 L351.4,884.32 L353.41,881.01 L355.43,877.63 L357.44,874.16 L359.46,870.63 L361.48,867.02 L363.49,863.34 L365.5,859.6 L367.52,855.8 L369.53,851.95 L371.55,848.04 L373.56,844.1 L375.58,840.12 L377.59,836.11 L379.61,832.08 L381.62,828.03 L383.64,823.97 L385.65,819.9 L387.67,815.84 L389.68,811.78 L391.7,807.75 L393.72,803.73 L395.73,799.75 L397.75,795.79 L399.76,791.89 L401.77,788.02 L403.79,784.21 L405.8,780.46 L407.82,776.77 L409.83,773.15 L411.85,769.59 L413.87,766.11 L415.88,762.71 L417.89,759.39 L419.91,756.15 L421.93,753 L423.94,749.94 L425.96,746.96 L427.97,744.07 L429.99,741.27 L432,738.56 L434.01,735.94 L436.03,733.42 L438.04,730.98 L440.06,728.62 L442.07,726.36 L444.09,724.18 L446.11,722.09 L448.12,720.08 L450.13,718.15 L452.15,716.3 L454.17,714.53 L456.18,712.83 L458.19,711.21 L460.21,709.66 L462.23,708.18 L464.24,706.76 L466.25,705.41 L468.27,704.12 L470.28,702.9 L472.3,701.73 L474.31,700.61 L476.33,699.55 L478.34,698.54 L480.36,697.58 L482.38,696.67 L484.39,695.8 L486.41,694.98 L488.42,694.19 L490.44,693.45 L492.45,692.75 L494.46,692.08 L496.48,691.44 L498.5,690.84 L500.51,690.27 L502.52,689.73 L504.54,689.21 L506.56,688.73 L508.57,688.27 L510.58,687.83 L512.6,687.42 L514.62,687.03 L516.63,686.66 L518.64,686.31 L520.66,685.98 L522.67,685.66" fill="none" stroke="#000" stroke-width="2" stroke-dasharray="7 4"/>
<line x1="280.88" y1="943.83" x2="280.88" y2="973.52" stroke="#000" stroke-width="2" stroke-linecap="butt"/>
<line x1="273.38" y1="943.83" x2="288.38" y2="943.83" stroke="#000" stroke-width="2" stroke-linecap="butt"/>
<line x1="273.38" y1="973.52" x2="288.38" y2="973.52" stroke="#000" stroke-width="2" stroke-linecap="butt"/>
<line x1="311.1" y1="934.31" x2="311.1" y2="964" stroke="#000" stroke-width="2" stroke-linecap="butt"/>
<line x1="303.6" y1="934.31" x2="318.6" y2="934.31" stroke="#000" stroke-width="2" stroke-linecap="butt"/>
<line x1="303.6" y1="964" x2="318.6" y2="964" stroke="#000" stroke-width="2" stroke-linecap="butt"/>
<line x1="341.32" y1="862.6" x2="341.32" y2="899.02" stroke="#000" stroke-width="2" stroke-linecap="butt"/>
<line x1="333.82" y1="862.6" x2="348.82" y2="862.6" stroke="#000" stroke-width="2" stroke-linecap="butt"/>
<line x1="333.82" y1="899.02" x2="348.82" y2="899.02" stroke="#000" stroke-width="2" stroke-linecap="butt"/>
<line x1="371.55" y1="858.68" x2="371.55" y2="881.09" stroke="#000" stroke-width="2" stroke-linecap="butt"/>
<line x1="364.05" y1="858.68" x2="379.05" y2="858.68" stroke="#000" stroke-width="2" stroke-linecap="butt"/>
<line x1="364.05" y1="881.09" x2="379.05" y2="881.09" stroke="#000" stroke-width="2" stroke-linecap="butt"/>
<line x1="401.77" y1="774.09" x2="401.77" y2="790.9" stroke="#000" stroke-width="2" stroke-linecap="butt"/>
<line x1="394.27" y1="774.09" x2="409.27" y2="774.09" stroke="#000" stroke-width="2" stroke-linecap="butt"/>
<line x1="394.27" y1="790.9" x2="409.27" y2="790.9" stroke="#000" stroke-width="2" stroke-linecap="butt"/>
<line x1="432" y1="724.79" x2="432" y2="741.6" stroke="#000" stroke-width="2" stroke-linecap="butt"/>
<line x1="424.5" y1="724.79" x2="439.5" y2="724.79" stroke="#000" stroke-width="2" stroke-linecap="butt"/>
<line x1="424.5" y1="741.6" x2="439.5" y2="741.6" stroke="#000" stroke-width="2" stroke-linecap="butt"/>
<line x1="462.23" y1="699.03" x2="462.23" y2="714.15" stroke="#000" stroke-width="2" stroke-linecap="butt"/>
<line x1="454.73" y1="699.03" x2="469.73" y2="699.03" stroke="#000" stroke-width="2" stroke-linecap="butt"/>
<line x1="454.73" y1="714.15" x2="469.73" y2="714.15" stroke="#000" stroke-width="2" stroke-linecap="butt"/>
<line x1="492.45" y1="685.3" x2="492.45" y2="693.7" stroke="#000" stroke-width="2" stroke-linecap="butt"/>
<line x1="484.95" y1="685.3" x2="499.95" y2="685.3" stroke="#000" stroke-width="2" stroke-linecap="butt"/>
<line x1="484.95" y1="693.7" x2="499.95" y2="693.7" stroke="#000" stroke-width="2" stroke-linecap="butt"/>
<line x1="522.67" y1="677.74" x2="522.67" y2="686.14" stroke="#000" stroke-width="2" stroke-linecap="butt"/>
<line x1="515.17" y1="677.74" x2="530.17" y2="677.74" stroke="#000" stroke-width="2" stroke-linecap="butt"/>
<line x1="515.17" y1="686.14" x2="530.17" y2="686.14" stroke="#000" stroke-width="2" stroke-linecap="butt"/>
<circle cx="280.88" cy="958.68" r="6.4" fill="none" stroke="#000" stroke-width="2.1"/>
<circle cx="311.1" cy="949.15" r="6.4" fill="none" stroke="#000" stroke-width="2.1"/>
<circle cx="341.32" cy="880.81" r="6.4" fill="none" stroke="#000" stroke-width="2.1"/>
<circle cx="371.55" cy="869.89" r="6.4" fill="none" stroke="#000" stroke-width="2.1"/>
<circle cx="401.77" cy="782.5" r="6.4" fill="none" stroke="#000" stroke-width="2.1"/>
<circle cx="432" cy="733.2" r="6.4" fill="none" stroke="#000" stroke-width="2.1"/>
<circle cx="462.23" cy="706.59" r="6.4" fill="none" stroke="#000" stroke-width="2.1"/>
<circle cx="492.45" cy="689.5" r="6.4" fill="none" stroke="#000" stroke-width="2.1"/>
<circle cx="522.67" cy="681.94" r="6.4" fill="none" stroke="#000" stroke-width="2.1"/>
<path d="M280.88,952.96 L282.89,952.29 L284.9,951.56 L286.92,950.79 L288.93,949.95 L290.95,949.05 L292.96,948.09 L294.98,947.06 L297,945.95 L299.01,944.76 L301.03,943.49 L303.04,942.13 L305.06,940.68 L307.07,939.13 L309.09,937.47 L311.1,935.7 L313.12,933.81 L315.13,931.8 L317.14,929.66 L319.16,927.39 L321.17,924.98 L323.19,922.42 L325.2,919.71 L327.22,916.85 L329.24,913.82 L331.25,910.63 L333.26,907.27 L335.28,903.74 L337.3,900.04 L339.31,896.15 L341.32,892.1 L343.34,887.87 L345.36,883.46 L347.37,878.88 L349.38,874.14 L351.4,869.23 L353.41,864.17 L355.43,858.96 L357.44,853.62 L359.46,848.14 L361.48,842.56 L363.49,836.87 L365.5,831.1 L367.52,825.25 L369.53,819.35 L371.55,813.41 L373.56,807.45 L375.58,801.49 L377.59,795.54 L379.61,789.63 L381.62,783.76 L383.64,777.95 L385.65,772.23 L387.67,766.6 L389.68,761.08 L391.7,755.68 L393.72,750.42 L395.73,745.3 L397.75,740.33 L399.76,735.52 L401.77,730.88 L403.79,726.4 L405.8,722.1 L407.82,717.97 L409.83,714.02 L411.85,710.24 L413.87,706.64 L415.88,703.22 L417.89,699.96 L419.91,696.87 L421.93,693.94 L423.94,691.17 L425.96,688.55 L427.97,686.08 L429.99,683.75 L432,681.56 L434.01,679.5 L436.03,677.57 L438.04,675.75 L440.06,674.05 L442.07,672.45 L444.09,670.96 L446.11,669.56 L448.12,668.26 L450.13,667.04 L452.15,665.9 L454.17,664.84 L456.18,663.85 L458.19,662.93 L460.21,662.07 L462.23,661.26 L464.24,660.52 L466.25,659.83 L468.27,659.18 L470.28,658.58 L472.3,658.02 L474.31,657.5 L476.33,657.02 L478.34,656.57 L480.36,656.16 L482.38,655.77 L484.39,655.41 L486.41,655.08 L488.42,654.77 L490.44,654.49 L492.45,654.22 L494.46,653.97 L496.48,653.74 L498.5,653.53 L500.51,653.34 L502.52,653.15 L504.54,652.98 L506.56,652.83 L508.57,652.68 L510.58,652.55 L512.6,652.42 L514.62,652.31 L516.63,652.2 L518.64,652.1 L520.66,652.01 L522.67,651.92" fill="none" stroke="#000" stroke-width="2" />
<line x1="280.88" y1="943.55" x2="280.88" y2="954.76" stroke="#000" stroke-width="2" stroke-linecap="butt"/>
<line x1="273.38" y1="943.55" x2="288.38" y2="943.55" stroke="#000" stroke-width="2" stroke-linecap="butt"/>
<line x1="273.38" y1="954.76" x2="288.38" y2="954.76" stroke="#000" stroke-width="2" stroke-linecap="butt"/>
<line x1="311.1" y1="932.35" x2="311.1" y2="937.95" stroke="#000" stroke-width="2" stroke-linecap="butt"/>
<line x1="303.6" y1="932.35" x2="318.6" y2="932.35" stroke="#000" stroke-width="2" stroke-linecap="butt"/>
<line x1="303.6" y1="937.95" x2="318.6" y2="937.95" stroke="#000" stroke-width="2" stroke-linecap="butt"/>
<line x1="341.32" y1="881.93" x2="341.32" y2="898.74" stroke="#000" stroke-width="2" stroke-linecap="butt"/>
<line x1="333.82" y1="881.93" x2="348.82" y2="881.93" stroke="#000" stroke-width="2" stroke-linecap="butt"/>
<line x1="333.82" y1="898.74" x2="348.82" y2="898.74" stroke="#000" stroke-width="2" stroke-linecap="butt"/>
<line x1="371.55" y1="874.93" x2="371.55" y2="888.93" stroke="#000" stroke-width="2" stroke-linecap="butt"/>
<line x1="364.05" y1="874.93" x2="379.05" y2="874.93" stroke="#000" stroke-width="2" stroke-linecap="butt"/>
<line x1="364.05" y1="888.93" x2="379.05" y2="888.93" stroke="#000" stroke-width="2" stroke-linecap="butt"/>
<line x1="401.77" y1="705.19" x2="401.77" y2="731.52" stroke="#000" stroke-width="2" stroke-linecap="butt"/>
<line x1="394.27" y1="705.19" x2="409.27" y2="705.19" stroke="#000" stroke-width="2" stroke-linecap="butt"/>
<line x1="394.27" y1="731.52" x2="409.27" y2="731.52" stroke="#000" stroke-width="2" stroke-linecap="butt"/>
<line x1="432" y1="644.41" x2="432" y2="672.42" stroke="#000" stroke-width="2" stroke-linecap="butt"/>
<line x1="424.5" y1="644.41" x2="439.5" y2="644.41" stroke="#000" stroke-width="2" stroke-linecap="butt"/>
<line x1="424.5" y1="672.42" x2="439.5" y2="672.42" stroke="#000" stroke-width="2" stroke-linecap="butt"/>
<line x1="462.23" y1="643.85" x2="462.23" y2="649.45" stroke="#000" stroke-width="2" stroke-linecap="butt"/>
<line x1="454.73" y1="643.85" x2="469.73" y2="643.85" stroke="#000" stroke-width="2" stroke-linecap="butt"/>
<line x1="454.73" y1="649.45" x2="469.73" y2="649.45" stroke="#000" stroke-width="2" stroke-linecap="butt"/>
<line x1="492.45" y1="650.01" x2="492.45" y2="658.41" stroke="#000" stroke-width="2" stroke-linecap="butt"/>
<line x1="484.95" y1="650.01" x2="499.95" y2="650.01" stroke="#000" stroke-width="2" stroke-linecap="butt"/>
<line x1="484.95" y1="658.41" x2="499.95" y2="658.41" stroke="#000" stroke-width="2" stroke-linecap="butt"/>
<line x1="522.67" y1="659.53" x2="522.67" y2="667.93" stroke="#000" stroke-width="2" stroke-linecap="butt"/>
<line x1="515.17" y1="659.53" x2="530.17" y2="659.53" stroke="#000" stroke-width="2" stroke-linecap="butt"/>
<line x1="515.17" y1="667.93" x2="530.17" y2="667.93" stroke="#000" stroke-width="2" stroke-linecap="butt"/>
<circle cx="280.88" cy="949.15" r="7" fill="#000"/>
<circle cx="311.1" cy="935.15" r="7" fill="#000"/>
<circle cx="341.32" cy="890.33" r="7" fill="#000"/>
<circle cx="371.55" cy="881.93" r="7" fill="#000"/>
<circle cx="401.77" cy="718.35" r="7" fill="#000"/>
<circle cx="432" cy="658.41" r="7" fill="#000"/>
<circle cx="462.23" cy="646.65" r="7" fill="#000"/>
<circle cx="492.45" cy="654.21" r="7" fill="#000"/>
<circle cx="522.67" cy="663.73" r="7" fill="#000"/>
<path d="M770.8,939.1 L773.32,939.02 L775.85,938.92 L778.38,938.82 L780.9,938.71 L783.43,938.59 L785.95,938.45 L788.47,938.3 L791,938.13 L793.52,937.95 L796.05,937.75 L798.58,937.53 L801.1,937.28 L803.62,937.01 L806.15,936.72 L808.67,936.39 L811.2,936.03 L813.73,935.64 L816.25,935.2 L818.77,934.72 L821.3,934.2 L823.83,933.62 L826.35,932.98 L828.88,932.28 L831.4,931.52 L833.92,930.68 L836.45,929.76 L838.98,928.76 L841.5,927.65 L844.03,926.45 L846.55,925.13 L849.07,923.7 L851.6,922.13 L854.12,920.43 L856.65,918.57 L859.18,916.56 L861.7,914.38 L864.22,912.02 L866.75,909.47 L869.27,906.72 L871.8,903.76 L874.33,900.58 L876.85,897.17 L879.38,893.54 L881.9,889.66 L884.42,885.55 L886.95,881.19 L889.48,876.59 L892,871.75 L894.52,866.69 L897.05,861.4 L899.58,855.9 L902.1,850.21 L904.62,844.34 L907.15,838.32 L909.67,832.17 L912.2,825.92 L914.73,819.59 L917.25,813.22 L919.78,806.83 L922.3,800.46 L924.82,794.14 L927.35,787.9 L929.88,781.77 L932.4,775.76 L934.93,769.92 L937.45,764.25 L939.97,758.77 L942.5,753.51 L945.02,748.47 L947.55,743.66 L950.08,739.09 L952.6,734.76 L955.12,730.67 L957.65,726.83 L960.17,723.22 L962.7,719.84 L965.23,716.69 L967.75,713.76 L970.27,711.03 L972.8,708.5 L975.33,706.16 L977.85,704 L980.38,702.01 L982.9,700.17 L985.42,698.49 L987.95,696.94 L990.48,695.52 L993,694.21 L995.53,693.02 L998.05,691.93 L1000.58,690.94 L1003.1,690.03 L1005.62,689.2 L1008.15,688.44 L1010.68,687.75 L1013.2,687.12 L1015.73,686.55 L1018.25,686.03 L1020.78,685.56 L1023.3,685.13 L1025.83,684.74 L1028.35,684.38 L1030.88,684.06 L1033.4,683.77 L1035.92,683.5 L1038.45,683.26 L1040.97,683.04 L1043.5,682.84 L1046.03,682.66 L1048.55,682.5 L1051.08,682.35 L1053.6,682.21 L1056.12,682.09 L1058.65,681.98 L1061.17,681.88 L1063.7,681.79 L1066.22,681.7 L1068.75,681.63 L1071.28,681.56 L1073.8,681.5" fill="none" stroke="#000" stroke-width="2" stroke-dasharray="7 4"/>
<line x1="770.8" y1="953.92" x2="770.8" y2="960.64" stroke="#000" stroke-width="2" stroke-linecap="butt"/>
<line x1="763.3" y1="953.92" x2="778.3" y2="953.92" stroke="#000" stroke-width="2" stroke-linecap="butt"/>
<line x1="763.3" y1="960.64" x2="778.3" y2="960.64" stroke="#000" stroke-width="2" stroke-linecap="butt"/>
<line x1="801.1" y1="946.63" x2="801.1" y2="953.36" stroke="#000" stroke-width="2" stroke-linecap="butt"/>
<line x1="793.6" y1="946.63" x2="808.6" y2="946.63" stroke="#000" stroke-width="2" stroke-linecap="butt"/>
<line x1="793.6" y1="953.36" x2="808.6" y2="953.36" stroke="#000" stroke-width="2" stroke-linecap="butt"/>
<line x1="831.4" y1="923.11" x2="831.4" y2="953.36" stroke="#000" stroke-width="2" stroke-linecap="butt"/>
<line x1="823.9" y1="923.11" x2="838.9" y2="923.11" stroke="#000" stroke-width="2" stroke-linecap="butt"/>
<line x1="823.9" y1="953.36" x2="838.9" y2="953.36" stroke="#000" stroke-width="2" stroke-linecap="butt"/>
<line x1="861.7" y1="878.57" x2="861.7" y2="894.82" stroke="#000" stroke-width="2" stroke-linecap="butt"/>
<line x1="854.2" y1="878.57" x2="869.2" y2="878.57" stroke="#000" stroke-width="2" stroke-linecap="butt"/>
<line x1="854.2" y1="894.82" x2="869.2" y2="894.82" stroke="#000" stroke-width="2" stroke-linecap="butt"/>
<line x1="892" y1="845.8" x2="892" y2="860.92" stroke="#000" stroke-width="2" stroke-linecap="butt"/>
<line x1="884.5" y1="845.8" x2="899.5" y2="845.8" stroke="#000" stroke-width="2" stroke-linecap="butt"/>
<line x1="884.5" y1="860.92" x2="899.5" y2="860.92" stroke="#000" stroke-width="2" stroke-linecap="butt"/>
<line x1="922.3" y1="804.62" x2="922.3" y2="829.27" stroke="#000" stroke-width="2" stroke-linecap="butt"/>
<line x1="914.8" y1="804.62" x2="929.8" y2="804.62" stroke="#000" stroke-width="2" stroke-linecap="butt"/>
<line x1="914.8" y1="829.27" x2="929.8" y2="829.27" stroke="#000" stroke-width="2" stroke-linecap="butt"/>
<line x1="952.6" y1="743.56" x2="952.6" y2="757.57" stroke="#000" stroke-width="2" stroke-linecap="butt"/>
<line x1="945.1" y1="743.56" x2="960.1" y2="743.56" stroke="#000" stroke-width="2" stroke-linecap="butt"/>
<line x1="945.1" y1="757.57" x2="960.1" y2="757.57" stroke="#000" stroke-width="2" stroke-linecap="butt"/>
<line x1="982.9" y1="700.15" x2="982.9" y2="708.55" stroke="#000" stroke-width="2" stroke-linecap="butt"/>
<line x1="975.4" y1="700.15" x2="990.4" y2="700.15" stroke="#000" stroke-width="2" stroke-linecap="butt"/>
<line x1="975.4" y1="708.55" x2="990.4" y2="708.55" stroke="#000" stroke-width="2" stroke-linecap="butt"/>
<line x1="1013.2" y1="683.34" x2="1013.2" y2="690.06" stroke="#000" stroke-width="2" stroke-linecap="butt"/>
<line x1="1005.7" y1="683.34" x2="1020.7" y2="683.34" stroke="#000" stroke-width="2" stroke-linecap="butt"/>
<line x1="1005.7" y1="690.06" x2="1020.7" y2="690.06" stroke="#000" stroke-width="2" stroke-linecap="butt"/>
<line x1="1043.5" y1="677.46" x2="1043.5" y2="684.18" stroke="#000" stroke-width="2" stroke-linecap="butt"/>
<line x1="1036" y1="677.46" x2="1051" y2="677.46" stroke="#000" stroke-width="2" stroke-linecap="butt"/>
<line x1="1036" y1="684.18" x2="1051" y2="684.18" stroke="#000" stroke-width="2" stroke-linecap="butt"/>
<circle cx="770.8" cy="957.28" r="6.4" fill="none" stroke="#000" stroke-width="2.1"/>
<circle cx="801.1" cy="950" r="6.4" fill="none" stroke="#000" stroke-width="2.1"/>
<circle cx="831.4" cy="938.23" r="6.4" fill="none" stroke="#000" stroke-width="2.1"/>
<circle cx="861.7" cy="886.69" r="6.4" fill="none" stroke="#000" stroke-width="2.1"/>
<circle cx="892" cy="853.36" r="6.4" fill="none" stroke="#000" stroke-width="2.1"/>
<circle cx="922.3" cy="816.95" r="6.4" fill="none" stroke="#000" stroke-width="2.1"/>
<circle cx="952.6" cy="750.56" r="6.4" fill="none" stroke="#000" stroke-width="2.1"/>
<circle cx="982.9" cy="704.35" r="6.4" fill="none" stroke="#000" stroke-width="2.1"/>
<circle cx="1013.2" cy="686.7" r="6.4" fill="none" stroke="#000" stroke-width="2.1"/>
<circle cx="1043.5" cy="680.82" r="6.4" fill="none" stroke="#000" stroke-width="2.1"/>
<circle cx="1073.8" cy="673.26" r="6.4" fill="none" stroke="#000" stroke-width="2.1"/>
<path d="M831.4,961.9 L833.42,961.74 L835.44,961.57 L837.46,961.39 L839.48,961.19 L841.5,960.98 L843.52,960.75 L845.54,960.51 L847.56,960.24 L849.58,959.96 L851.6,959.65 L853.62,959.32 L855.64,958.97 L857.66,958.59 L859.68,958.18 L861.7,957.74 L863.72,957.27 L865.74,956.76 L867.76,956.21 L869.78,955.63 L871.8,955 L873.82,954.33 L875.84,953.6 L877.86,952.83 L879.88,951.99 L881.9,951.1 L883.92,950.15 L885.94,949.13 L887.96,948.04 L889.98,946.87 L892,945.63 L894.02,944.3 L896.04,942.88 L898.06,941.37 L900.08,939.76 L902.1,938.05 L904.12,936.23 L906.14,934.3 L908.16,932.26 L910.18,930.09 L912.2,927.8 L914.22,925.38 L916.24,922.83 L918.26,920.13 L920.28,917.31 L922.3,914.33 L924.32,911.22 L926.34,907.96 L928.36,904.56 L930.38,901.01 L932.4,897.32 L934.42,893.49 L936.44,889.52 L938.46,885.42 L940.48,881.2 L942.5,876.85 L944.52,872.39 L946.54,867.82 L948.56,863.17 L950.58,858.43 L952.6,853.61 L954.62,848.74 L956.64,843.82 L958.66,838.87 L960.68,833.9 L962.7,828.93 L964.72,823.96 L966.74,819.02 L968.76,814.12 L970.78,809.27 L972.8,804.48 L974.82,799.77 L976.84,795.14 L978.86,790.62 L980.88,786.2 L982.9,781.89 L984.92,777.71 L986.94,773.66 L988.96,769.74 L990.98,765.96 L993,762.32 L995.02,758.82 L997.04,755.47 L999.06,752.26 L1001.08,749.2 L1003.1,746.28 L1005.12,743.5 L1007.14,740.86 L1009.16,738.36 L1011.18,735.98 L1013.2,733.74 L1015.22,731.61 L1017.24,729.61 L1019.26,727.72 L1021.28,725.94 L1023.3,724.27 L1025.32,722.7 L1027.34,721.22 L1029.36,719.84 L1031.38,718.54 L1033.4,717.32 L1035.42,716.18 L1037.44,715.12 L1039.46,714.12 L1041.48,713.19 L1043.5,712.32 L1045.52,711.51 L1047.54,710.75 L1049.56,710.05 L1051.58,709.39 L1053.6,708.78 L1055.62,708.21 L1057.64,707.67 L1059.66,707.18 L1061.68,706.72 L1063.7,706.29 L1065.72,705.89 L1067.74,705.52 L1069.76,705.18 L1071.78,704.86 L1073.8,704.56" fill="none" stroke="#000" stroke-width="2" />
<line x1="892" y1="938.23" x2="892" y2="944.95" stroke="#000" stroke-width="2" stroke-linecap="butt"/>
<line x1="884.5" y1="938.23" x2="899.5" y2="938.23" stroke="#000" stroke-width="2" stroke-linecap="butt"/>
<line x1="884.5" y1="944.95" x2="899.5" y2="944.95" stroke="#000" stroke-width="2" stroke-linecap="butt"/>
<line x1="922.3" y1="909.66" x2="922.3" y2="927.59" stroke="#000" stroke-width="2" stroke-linecap="butt"/>
<line x1="914.8" y1="909.66" x2="929.8" y2="909.66" stroke="#000" stroke-width="2" stroke-linecap="butt"/>
<line x1="914.8" y1="927.59" x2="929.8" y2="927.59" stroke="#000" stroke-width="2" stroke-linecap="butt"/>
<line x1="952.6" y1="826.75" x2="952.6" y2="858.68" stroke="#000" stroke-width="2" stroke-linecap="butt"/>
<line x1="945.1" y1="826.75" x2="960.1" y2="826.75" stroke="#000" stroke-width="2" stroke-linecap="butt"/>
<line x1="945.1" y1="858.68" x2="960.1" y2="858.68" stroke="#000" stroke-width="2" stroke-linecap="butt"/>
<line x1="982.9" y1="792.3" x2="982.9" y2="816.39" stroke="#000" stroke-width="2" stroke-linecap="butt"/>
<line x1="975.4" y1="792.3" x2="990.4" y2="792.3" stroke="#000" stroke-width="2" stroke-linecap="butt"/>
<line x1="975.4" y1="816.39" x2="990.4" y2="816.39" stroke="#000" stroke-width="2" stroke-linecap="butt"/>
<line x1="1013.2" y1="741.32" x2="1013.2" y2="749.72" stroke="#000" stroke-width="2" stroke-linecap="butt"/>
<line x1="1005.7" y1="741.32" x2="1020.7" y2="741.32" stroke="#000" stroke-width="2" stroke-linecap="butt"/>
<line x1="1005.7" y1="749.72" x2="1020.7" y2="749.72" stroke="#000" stroke-width="2" stroke-linecap="butt"/>
<line x1="1043.5" y1="691.74" x2="1043.5" y2="713.59" stroke="#000" stroke-width="2" stroke-linecap="butt"/>
<line x1="1036" y1="691.74" x2="1051" y2="691.74" stroke="#000" stroke-width="2" stroke-linecap="butt"/>
<line x1="1036" y1="713.59" x2="1051" y2="713.59" stroke="#000" stroke-width="2" stroke-linecap="butt"/>
<line x1="1073.8" y1="688.38" x2="1073.8" y2="705.19" stroke="#000" stroke-width="2" stroke-linecap="butt"/>
<line x1="1066.3" y1="688.38" x2="1081.3" y2="688.38" stroke="#000" stroke-width="2" stroke-linecap="butt"/>
<line x1="1066.3" y1="705.19" x2="1081.3" y2="705.19" stroke="#000" stroke-width="2" stroke-linecap="butt"/>
<circle cx="831.4" cy="967.36" r="7" fill="#000"/>
<circle cx="861.7" cy="955.04" r="7" fill="#000"/>
<circle cx="892" cy="941.59" r="7" fill="#000"/>
<circle cx="922.3" cy="918.62" r="7" fill="#000"/>
<circle cx="952.6" cy="842.72" r="7" fill="#000"/>
<circle cx="982.9" cy="804.34" r="7" fill="#000"/>
<circle cx="1013.2" cy="745.52" r="7" fill="#000"/>
<circle cx="1043.5" cy="702.67" r="7" fill="#000"/>
<circle cx="1073.8" cy="696.78" r="7" fill="#000"/>
<path d="M1309.65,939.1 L1312.17,939.02 L1314.69,938.92 L1317.21,938.82 L1319.73,938.71 L1322.25,938.59 L1324.78,938.45 L1327.3,938.3 L1329.82,938.13 L1332.34,937.95 L1334.86,937.75 L1337.38,937.53 L1339.9,937.28 L1342.42,937.01 L1344.94,936.72 L1347.46,936.39 L1349.98,936.03 L1352.5,935.64 L1355.03,935.2 L1357.55,934.72 L1360.07,934.2 L1362.59,933.62 L1365.11,932.98 L1367.63,932.28 L1370.15,931.52 L1372.67,930.68 L1375.19,929.76 L1377.71,928.76 L1380.23,927.65 L1382.75,926.45 L1385.28,925.13 L1387.8,923.7 L1390.32,922.13 L1392.84,920.43 L1395.36,918.57 L1397.88,916.56 L1400.4,914.38 L1402.92,912.02 L1405.44,909.47 L1407.96,906.72 L1410.48,903.76 L1413,900.58 L1415.53,897.17 L1418.05,893.54 L1420.57,889.66 L1423.09,885.55 L1425.61,881.19 L1428.13,876.59 L1430.65,871.75 L1433.17,866.69 L1435.69,861.4 L1438.21,855.9 L1440.73,850.21 L1443.25,844.34 L1445.78,838.32 L1448.3,832.17 L1450.82,825.92 L1453.34,819.59 L1455.86,813.22 L1458.38,806.83 L1460.9,800.46 L1463.42,794.14 L1465.94,787.9 L1468.46,781.77 L1470.98,775.76 L1473.5,769.92 L1476.03,764.25 L1478.55,758.77 L1481.07,753.51 L1483.59,748.47 L1486.11,743.66 L1488.63,739.09 L1491.15,734.76 L1493.67,730.67 L1496.19,726.83 L1498.71,723.22 L1501.23,719.84 L1503.75,716.69 L1506.28,713.76 L1508.8,711.03 L1511.32,708.5 L1513.84,706.16 L1516.36,704 L1518.88,702.01 L1521.4,700.17 L1523.92,698.49 L1526.44,696.94 L1528.96,695.52 L1531.48,694.21 L1534,693.02 L1536.53,691.93 L1539.05,690.94 L1541.57,690.03 L1544.09,689.2 L1546.61,688.44 L1549.13,687.75 L1551.65,687.12 L1554.17,686.55 L1556.69,686.03 L1559.21,685.56 L1561.73,685.13 L1564.25,684.74 L1566.78,684.38 L1569.3,684.06 L1571.82,683.77 L1574.34,683.5 L1576.86,683.26 L1579.38,683.04 L1581.9,682.84 L1584.42,682.66 L1586.94,682.5 L1589.46,682.35 L1591.98,682.21 L1594.5,682.09 L1597.03,681.98 L1599.55,681.88 L1602.07,681.79 L1604.59,681.7 L1607.11,681.63 L1609.63,681.56 L1612.15,681.5" fill="none" stroke="#000" stroke-width="2" stroke-dasharray="7 4"/>
<line x1="1309.65" y1="953.92" x2="1309.65" y2="960.64" stroke="#000" stroke-width="2" stroke-linecap="butt"/>
<line x1="1302.15" y1="953.92" x2="1317.15" y2="953.92" stroke="#000" stroke-width="2" stroke-linecap="butt"/>
<line x1="1302.15" y1="960.64" x2="1317.15" y2="960.64" stroke="#000" stroke-width="2" stroke-linecap="butt"/>
<line x1="1339.9" y1="946.63" x2="1339.9" y2="953.36" stroke="#000" stroke-width="2" stroke-linecap="butt"/>
<line x1="1332.4" y1="946.63" x2="1347.4" y2="946.63" stroke="#000" stroke-width="2" stroke-linecap="butt"/>
<line x1="1332.4" y1="953.36" x2="1347.4" y2="953.36" stroke="#000" stroke-width="2" stroke-linecap="butt"/>
<line x1="1370.15" y1="923.11" x2="1370.15" y2="953.36" stroke="#000" stroke-width="2" stroke-linecap="butt"/>
<line x1="1362.65" y1="923.11" x2="1377.65" y2="923.11" stroke="#000" stroke-width="2" stroke-linecap="butt"/>
<line x1="1362.65" y1="953.36" x2="1377.65" y2="953.36" stroke="#000" stroke-width="2" stroke-linecap="butt"/>
<line x1="1400.4" y1="878.57" x2="1400.4" y2="894.82" stroke="#000" stroke-width="2" stroke-linecap="butt"/>
<line x1="1392.9" y1="878.57" x2="1407.9" y2="878.57" stroke="#000" stroke-width="2" stroke-linecap="butt"/>
<line x1="1392.9" y1="894.82" x2="1407.9" y2="894.82" stroke="#000" stroke-width="2" stroke-linecap="butt"/>
<line x1="1430.65" y1="845.8" x2="1430.65" y2="860.92" stroke="#000" stroke-width="2" stroke-linecap="butt"/>
<line x1="1423.15" y1="845.8" x2="1438.15" y2="845.8" stroke="#000" stroke-width="2" stroke-linecap="butt"/>
<line x1="1423.15" y1="860.92" x2="1438.15" y2="860.92" stroke="#000" stroke-width="2" stroke-linecap="butt"/>
<line x1="1460.9" y1="804.62" x2="1460.9" y2="829.27" stroke="#000" stroke-width="2" stroke-linecap="butt"/>
<line x1="1453.4" y1="804.62" x2="1468.4" y2="804.62" stroke="#000" stroke-width="2" stroke-linecap="butt"/>
<line x1="1453.4" y1="829.27" x2="1468.4" y2="829.27" stroke="#000" stroke-width="2" stroke-linecap="butt"/>
<line x1="1491.15" y1="743.56" x2="1491.15" y2="757.57" stroke="#000" stroke-width="2" stroke-linecap="butt"/>
<line x1="1483.65" y1="743.56" x2="1498.65" y2="743.56" stroke="#000" stroke-width="2" stroke-linecap="butt"/>
<line x1="1483.65" y1="757.57" x2="1498.65" y2="757.57" stroke="#000" stroke-width="2" stroke-linecap="butt"/>
<line x1="1521.4" y1="700.15" x2="1521.4" y2="708.55" stroke="#000" stroke-width="2" stroke-linecap="butt"/>
<line x1="1513.9" y1="700.15" x2="1528.9" y2="700.15" stroke="#000" stroke-width="2" stroke-linecap="butt"/>
<line x1="1513.9" y1="708.55" x2="1528.9" y2="708.55" stroke="#000" stroke-width="2" stroke-linecap="butt"/>
<line x1="1551.65" y1="683.34" x2="1551.65" y2="690.06" stroke="#000" stroke-width="2" stroke-linecap="butt"/>
<line x1="1544.15" y1="683.34" x2="1559.15" y2="683.34" stroke="#000" stroke-width="2" stroke-linecap="butt"/>
<line x1="1544.15" y1="690.06" x2="1559.15" y2="690.06" stroke="#000" stroke-width="2" stroke-linecap="butt"/>
<line x1="1581.9" y1="677.46" x2="1581.9" y2="684.18" stroke="#000" stroke-width="2" stroke-linecap="butt"/>
<line x1="1574.4" y1="677.46" x2="1589.4" y2="677.46" stroke="#000" stroke-width="2" stroke-linecap="butt"/>
<line x1="1574.4" y1="684.18" x2="1589.4" y2="684.18" stroke="#000" stroke-width="2" stroke-linecap="butt"/>
<line x1="1612.15" y1="666.53" x2="1612.15" y2="679.98" stroke="#000" stroke-width="2" stroke-linecap="butt"/>
<line x1="1604.65" y1="666.53" x2="1619.65" y2="666.53" stroke="#000" stroke-width="2" stroke-linecap="butt"/>
<line x1="1604.65" y1="679.98" x2="1619.65" y2="679.98" stroke="#000" stroke-width="2" stroke-linecap="butt"/>
<circle cx="1309.65" cy="957.28" r="6.4" fill="none" stroke="#000" stroke-width="2.1"/>
<circle cx="1339.9" cy="950" r="6.4" fill="none" stroke="#000" stroke-width="2.1"/>
<circle cx="1370.15" cy="938.23" r="6.4" fill="none" stroke="#000" stroke-width="2.1"/>
<circle cx="1400.4" cy="886.69" r="6.4" fill="none" stroke="#000" stroke-width="2.1"/>
<circle cx="1430.65" cy="853.36" r="6.4" fill="none" stroke="#000" stroke-width="2.1"/>
<circle cx="1460.9" cy="816.95" r="6.4" fill="none" stroke="#000" stroke-width="2.1"/>
<circle cx="1491.15" cy="750.56" r="6.4" fill="none" stroke="#000" stroke-width="2.1"/>
<circle cx="1521.4" cy="704.35" r="6.4" fill="none" stroke="#000" stroke-width="2.1"/>
<circle cx="1551.65" cy="686.7" r="6.4" fill="none" stroke="#000" stroke-width="2.1"/>
<circle cx="1581.9" cy="680.82" r="6.4" fill="none" stroke="#000" stroke-width="2.1"/>
<circle cx="1612.15" cy="673.26" r="6.4" fill="none" stroke="#000" stroke-width="2.1"/>
<path d="M1370.15,961.32 L1372.17,961.31 L1374.18,961.31 L1376.2,961.3 L1378.22,961.3 L1380.23,961.29 L1382.25,961.28 L1384.27,961.27 L1386.28,961.26 L1388.3,961.25 L1390.32,961.24 L1392.33,961.23 L1394.35,961.22 L1396.37,961.2 L1398.38,961.18 L1400.4,961.17 L1402.42,961.15 L1404.43,961.12 L1406.45,961.1 L1408.47,961.07 L1410.48,961.04 L1412.5,961.01 L1414.52,960.97 L1416.53,960.93 L1418.55,960.89 L1420.57,960.84 L1422.58,960.79 L1424.6,960.73 L1426.62,960.67 L1428.63,960.6 L1430.65,960.52 L1432.67,960.43 L1434.68,960.34 L1436.7,960.24 L1438.72,960.13 L1440.73,960 L1442.75,959.86 L1444.77,959.71 L1446.78,959.55 L1448.8,959.37 L1450.82,959.17 L1452.83,958.95 L1454.85,958.71 L1456.87,958.44 L1458.88,958.15 L1460.9,957.83 L1462.92,957.48 L1464.93,957.09 L1466.95,956.67 L1468.97,956.2 L1470.98,955.69 L1473,955.13 L1475.02,954.52 L1477.03,953.85 L1479.05,953.11 L1481.07,952.31 L1483.08,951.43 L1485.1,950.46 L1487.12,949.4 L1489.13,948.25 L1491.15,946.99 L1493.17,945.62 L1495.18,944.12 L1497.2,942.5 L1499.22,940.72 L1501.23,938.8 L1503.25,936.71 L1505.27,934.44 L1507.28,931.99 L1509.3,929.34 L1511.32,926.48 L1513.33,923.4 L1515.35,920.08 L1517.37,916.53 L1519.38,912.72 L1521.4,908.66 L1523.42,904.33 L1525.43,899.73 L1527.45,894.86 L1529.47,889.71 L1531.48,884.29 L1533.5,878.61 L1535.52,872.66 L1537.53,866.46 L1539.55,860.03 L1541.57,853.38 L1543.58,846.53 L1545.6,839.51 L1547.62,832.35 L1549.63,825.06 L1551.65,817.7 L1553.67,810.27 L1555.68,802.83 L1557.7,795.41 L1559.72,788.03 L1561.73,780.74 L1563.75,773.56 L1565.77,766.52 L1567.78,759.65 L1569.8,752.97 L1571.82,746.51 L1573.83,740.29 L1575.85,734.31 L1577.87,728.59 L1579.88,723.14 L1581.9,717.96 L1583.92,713.05 L1585.93,708.42 L1587.95,704.06 L1589.97,699.96 L1591.98,696.13 L1594,692.55 L1596.02,689.2 L1598.03,686.1 L1600.05,683.21 L1602.07,680.53 L1604.08,678.06 L1606.1,675.77 L1608.12,673.66 L1610.13,671.72 L1612.15,669.92" fill="none" stroke="#000" stroke-width="2" />
<line x1="1400.4" y1="950.56" x2="1400.4" y2="967.92" stroke="#000" stroke-width="2" stroke-linecap="butt"/>
<line x1="1392.9" y1="950.56" x2="1407.9" y2="950.56" stroke="#000" stroke-width="2" stroke-linecap="butt"/>
<line x1="1392.9" y1="967.92" x2="1407.9" y2="967.92" stroke="#000" stroke-width="2" stroke-linecap="butt"/>
<line x1="1430.65" y1="964.84" x2="1430.65" y2="971.56" stroke="#000" stroke-width="2" stroke-linecap="butt"/>
<line x1="1423.15" y1="964.84" x2="1438.15" y2="964.84" stroke="#000" stroke-width="2" stroke-linecap="butt"/>
<line x1="1423.15" y1="971.56" x2="1438.15" y2="971.56" stroke="#000" stroke-width="2" stroke-linecap="butt"/>
<line x1="1460.9" y1="955.88" x2="1460.9" y2="962.6" stroke="#000" stroke-width="2" stroke-linecap="butt"/>
<line x1="1453.4" y1="955.88" x2="1468.4" y2="955.88" stroke="#000" stroke-width="2" stroke-linecap="butt"/>
<line x1="1453.4" y1="962.6" x2="1468.4" y2="962.6" stroke="#000" stroke-width="2" stroke-linecap="butt"/>
<line x1="1491.15" y1="935.15" x2="1491.15" y2="943.55" stroke="#000" stroke-width="2" stroke-linecap="butt"/>
<line x1="1483.65" y1="935.15" x2="1498.65" y2="935.15" stroke="#000" stroke-width="2" stroke-linecap="butt"/>
<line x1="1483.65" y1="943.55" x2="1498.65" y2="943.55" stroke="#000" stroke-width="2" stroke-linecap="butt"/>
<line x1="1521.4" y1="889.77" x2="1521.4" y2="905.46" stroke="#000" stroke-width="2" stroke-linecap="butt"/>
<line x1="1513.9" y1="889.77" x2="1528.9" y2="889.77" stroke="#000" stroke-width="2" stroke-linecap="butt"/>
<line x1="1513.9" y1="905.46" x2="1528.9" y2="905.46" stroke="#000" stroke-width="2" stroke-linecap="butt"/>
<line x1="1551.65" y1="805.74" x2="1551.65" y2="833.75" stroke="#000" stroke-width="2" stroke-linecap="butt"/>
<line x1="1544.15" y1="805.74" x2="1559.15" y2="805.74" stroke="#000" stroke-width="2" stroke-linecap="butt"/>
<line x1="1544.15" y1="833.75" x2="1559.15" y2="833.75" stroke="#000" stroke-width="2" stroke-linecap="butt"/>
<line x1="1581.9" y1="688.38" x2="1581.9" y2="712.47" stroke="#000" stroke-width="2" stroke-linecap="butt"/>
<line x1="1574.4" y1="688.38" x2="1589.4" y2="688.38" stroke="#000" stroke-width="2" stroke-linecap="butt"/>
<line x1="1574.4" y1="712.47" x2="1589.4" y2="712.47" stroke="#000" stroke-width="2" stroke-linecap="butt"/>
<line x1="1612.15" y1="640.2" x2="1612.15" y2="667.65" stroke="#000" stroke-width="2" stroke-linecap="butt"/>
<line x1="1604.65" y1="640.2" x2="1619.65" y2="640.2" stroke="#000" stroke-width="2" stroke-linecap="butt"/>
<line x1="1604.65" y1="667.65" x2="1619.65" y2="667.65" stroke="#000" stroke-width="2" stroke-linecap="butt"/>
<circle cx="1370.15" cy="971.56" r="7" fill="#000"/>
<circle cx="1400.4" cy="959.24" r="7" fill="#000"/>
<circle cx="1430.65" cy="968.2" r="7" fill="#000"/>
<circle cx="1460.9" cy="959.24" r="7" fill="#000"/>
<circle cx="1491.15" cy="939.35" r="7" fill="#000"/>
<circle cx="1521.4" cy="897.62" r="7" fill="#000"/>
<circle cx="1551.65" cy="819.75" r="7" fill="#000"/>
<circle cx="1581.9" cy="700.43" r="7" fill="#000"/>
<circle cx="1612.15" cy="653.93" r="7" fill="#000"/>
<line x1="168.2" y1="598.7" x2="206.4" y2="598.7" stroke="#000" stroke-width="2" />
<circle cx="187" cy="598.7" r="7" fill="#000"/>
<line x1="168.2" y1="649.5" x2="206.4" y2="649.5" stroke="#000" stroke-width="2" stroke-dasharray="5 3"/>
<circle cx="187" cy="649.5" r="6.4" fill="none" stroke="#000" stroke-width="2.1"/>
<text transform="translate(226,610.8) scale(1,1.045)" font-size="31" text-anchor="start" fill="#000" >Binding</text>
<text transform="translate(226,660.5) scale(1,1.045)" font-size="31" text-anchor="start" fill="#000" >Release</text>
<line x1="725.1" y1="602.7" x2="764.2" y2="602.7" stroke="#000" stroke-width="2" />
<circle cx="744.3" cy="602.7" r="7" fill="#000"/>
<line x1="725.1" y1="651.2" x2="764.2" y2="651.2" stroke="#000" stroke-width="2" stroke-dasharray="5 3"/>
<circle cx="744.3" cy="651.2" r="6.4" fill="none" stroke="#000" stroke-width="2.1"/>
<text transform="translate(783.2,613) scale(1,1.045)" font-size="31" text-anchor="start" fill="#000" >Binding</text>
<text transform="translate(783.2,662) scale(1,1.045)" font-size="31" text-anchor="start" fill="#000" >Release</text>
<line x1="1262.7" y1="600.9" x2="1300.8" y2="600.9" stroke="#000" stroke-width="2" />
<circle cx="1281.4" cy="600.9" r="7" fill="#000"/>
<line x1="1262.7" y1="646.8" x2="1300.8" y2="646.8" stroke="#000" stroke-width="2" stroke-dasharray="5 3"/>
<circle cx="1281.4" cy="646.8" r="6.4" fill="none" stroke="#000" stroke-width="2.1"/>
<text transform="translate(1320.5,611.5) scale(1,1.045)" font-size="31" text-anchor="start" fill="#000" >Binding</text>
<text transform="translate(1320.5,657.5) scale(1,1.045)" font-size="31" text-anchor="start" fill="#000" >Release</text>
<text transform="translate(74.8,805.5) rotate(-90) scale(1,1.045)" font-size="30.6" text-anchor="middle"><tspan font-size="24" dy="-11.4">35</tspan><tspan dy="11.4">S-GTP</tspan><tspan font-size="27" font-family="Liberation Serif, serif" font-style="italic">γ</tspan><tspan>S Binding (% DAMGO)</tspan></text>
<text transform="translate(625.6,805.5) rotate(-90) scale(1,1.045)" font-size="30.6" text-anchor="middle"><tspan font-size="24" dy="-11.4">35</tspan><tspan dy="11.4">S-GTP</tspan><tspan font-size="27" font-family="Liberation Serif, serif" font-style="italic">γ</tspan><tspan>S Binding (% DAMGO)</tspan></text>
<text transform="translate(1163.9,805.5) rotate(-90) scale(1,1.045)" font-size="30.6" text-anchor="middle"><tspan font-size="24" dy="-11.4">35</tspan><tspan dy="11.4">S-GTP</tspan><tspan font-size="27" font-family="Liberation Serif, serif" font-style="italic">γ</tspan><tspan>S Binding (% DAMGO)</tspan></text>
<rect x="503.4" y="1144.6" width="37.6" height="25" fill="#777777" stroke="#333333" stroke-width="1.6"/>
<text transform="translate(561.2,1169.6) scale(1,1.045)" font-size="33" text-anchor="start" fill="#000" >Binding</text>
<rect x="714.1" y="1145.6" width="35.8" height="22.9" fill="#e8e8e8" stroke="#999999" stroke-width="3.5"/>
<text transform="translate(771.2,1169.6) scale(1,1.045)" font-size="33" text-anchor="start" fill="#000" >Release</text>
<rect x="482.8" y="1404.89" width="45" height="206.51" fill="#777777" stroke="#333333" stroke-width="1.9"/>
<rect x="483.7" y="1426.16" width="43.2" height="185.24" fill="#e8e8e8" stroke="#999999" stroke-width="3.4"/>
<line x1="505.3" y1="1391.64" x2="505.3" y2="1418.13" stroke="#333333" stroke-width="2" stroke-linecap="butt"/>
<line x1="493.3" y1="1391.64" x2="517.3" y2="1391.64" stroke="#333333" stroke-width="2" stroke-linecap="butt"/>
<line x1="493.3" y1="1418.13" x2="517.3" y2="1418.13" stroke="#333333" stroke-width="2" stroke-linecap="butt"/>
<line x1="505.3" y1="1390.6" x2="505.3" y2="1458.6" stroke="#8c8c8c" stroke-width="3.2" stroke-linecap="round"/>
<line x1="493.3" y1="1390.6" x2="517.3" y2="1390.6" stroke="#8c8c8c" stroke-width="3.2" stroke-linecap="round"/>
<line x1="493.3" y1="1458.6" x2="517.3" y2="1458.6" stroke="#8c8c8c" stroke-width="3.2" stroke-linecap="round"/>
<rect x="552.5" y="1330.83" width="43.2" height="280.57" fill="#e8e8e8" stroke="#999999" stroke-width="3.4"/>
<rect x="551.6" y="1475.18" width="45" height="136.22" fill="#777777" stroke="#333333" stroke-width="1.9"/>
<line x1="574.1" y1="1438.78" x2="574.1" y2="1510.65" stroke="#333333" stroke-width="2" stroke-linecap="butt"/>
<line x1="562.1" y1="1438.78" x2="586.1" y2="1438.78" stroke="#333333" stroke-width="2" stroke-linecap="butt"/>
<line x1="562.1" y1="1510.65" x2="586.1" y2="1510.65" stroke="#333333" stroke-width="2" stroke-linecap="butt"/>
<line x1="574.1" y1="1275.14" x2="574.1" y2="1382.98" stroke="#8c8c8c" stroke-width="3.2" stroke-linecap="round"/>
<line x1="562.1" y1="1275.14" x2="586.1" y2="1275.14" stroke="#8c8c8c" stroke-width="3.2" stroke-linecap="round"/>
<line x1="562.1" y1="1382.98" x2="586.1" y2="1382.98" stroke="#8c8c8c" stroke-width="3.2" stroke-linecap="round"/>
<rect x="621.2" y="1381.11" width="43.2" height="230.29" fill="#e8e8e8" stroke="#999999" stroke-width="3.4"/>
<rect x="620.3" y="1561.65" width="45" height="49.75" fill="#777777" stroke="#333333" stroke-width="1.9"/>
<line x1="642.8" y1="1544.96" x2="642.8" y2="1576.77" stroke="#333333" stroke-width="2" stroke-linecap="butt"/>
<line x1="630.8" y1="1544.96" x2="654.8" y2="1544.96" stroke="#333333" stroke-width="2" stroke-linecap="butt"/>
<line x1="630.8" y1="1576.77" x2="654.8" y2="1576.77" stroke="#333333" stroke-width="2" stroke-linecap="butt"/>
<line x1="642.8" y1="1350.65" x2="642.8" y2="1407.08" stroke="#8c8c8c" stroke-width="3.2" stroke-linecap="round"/>
<line x1="630.8" y1="1350.65" x2="654.8" y2="1350.65" stroke="#8c8c8c" stroke-width="3.2" stroke-linecap="round"/>
<line x1="630.8" y1="1407.08" x2="654.8" y2="1407.08" stroke="#8c8c8c" stroke-width="3.2" stroke-linecap="round"/>
<line x1="460" y1="1215.5" x2="460" y2="1612.4" stroke="#000" stroke-width="2" />
<line x1="450.6" y1="1611.4" x2="688.7" y2="1611.4" stroke="#000" stroke-width="2" />
<line x1="450.5" y1="1507.1" x2="460" y2="1507.1" stroke="#000" stroke-width="2" />
<line x1="450.5" y1="1402.8" x2="460" y2="1402.8" stroke="#000" stroke-width="2" />
<line x1="450.5" y1="1298.5" x2="460" y2="1298.5" stroke="#000" stroke-width="2" />
<line x1="454.5" y1="1580" x2="460" y2="1580" stroke="#000" stroke-width="2" />
<line x1="454.5" y1="1561.64" x2="460" y2="1561.64" stroke="#000" stroke-width="2" />
<line x1="454.5" y1="1548.61" x2="460" y2="1548.61" stroke="#000" stroke-width="2" />
<line x1="454.5" y1="1538.5" x2="460" y2="1538.5" stroke="#000" stroke-width="2" />
<line x1="454.5" y1="1530.24" x2="460" y2="1530.24" stroke="#000" stroke-width="2" />
<line x1="454.5" y1="1523.26" x2="460" y2="1523.26" stroke="#000" stroke-width="2" />
<line x1="454.5" y1="1517.21" x2="460" y2="1517.21" stroke="#000" stroke-width="2" />
<line x1="454.5" y1="1511.87" x2="460" y2="1511.87" stroke="#000" stroke-width="2" />
<line x1="454.5" y1="1475.7" x2="460" y2="1475.7" stroke="#000" stroke-width="2" />
<line x1="454.5" y1="1457.34" x2="460" y2="1457.34" stroke="#000" stroke-width="2" />
<line x1="454.5" y1="1444.31" x2="460" y2="1444.31" stroke="#000" stroke-width="2" />
<line x1="454.5" y1="1434.2" x2="460" y2="1434.2" stroke="#000" stroke-width="2" />
<line x1="454.5" y1="1425.94" x2="460" y2="1425.94" stroke="#000" stroke-width="2" />
<line x1="454.5" y1="1418.96" x2="460" y2="1418.96" stroke="#000" stroke-width="2" />
<line x1="454.5" y1="1412.91" x2="460" y2="1412.91" stroke="#000" stroke-width="2" />
<line x1="454.5" y1="1407.57" x2="460" y2="1407.57" stroke="#000" stroke-width="2" />
<line x1="454.5" y1="1371.4" x2="460" y2="1371.4" stroke="#000" stroke-width="2" />
<line x1="454.5" y1="1353.04" x2="460" y2="1353.04" stroke="#000" stroke-width="2" />
<line x1="454.5" y1="1340.01" x2="460" y2="1340.01" stroke="#000" stroke-width="2" />
<line x1="454.5" y1="1329.9" x2="460" y2="1329.9" stroke="#000" stroke-width="2" />
<line x1="454.5" y1="1321.64" x2="460" y2="1321.64" stroke="#000" stroke-width="2" />
<line x1="454.5" y1="1314.66" x2="460" y2="1314.66" stroke="#000" stroke-width="2" />
<line x1="454.5" y1="1308.61" x2="460" y2="1308.61" stroke="#000" stroke-width="2" />
<line x1="454.5" y1="1303.27" x2="460" y2="1303.27" stroke="#000" stroke-width="2" />
<line x1="454.5" y1="1267.1" x2="460" y2="1267.1" stroke="#000" stroke-width="2" />
<line x1="454.5" y1="1248.74" x2="460" y2="1248.74" stroke="#000" stroke-width="2" />
<line x1="454.5" y1="1235.71" x2="460" y2="1235.71" stroke="#000" stroke-width="2" />
<line x1="454.5" y1="1225.6" x2="460" y2="1225.6" stroke="#000" stroke-width="2" />
<line x1="454.5" y1="1217.34" x2="460" y2="1217.34" stroke="#000" stroke-width="2" />
<text transform="translate(445.5,1622.66) scale(1,1.07)" font-size="30.5" text-anchor="end" fill="#000" >6</text>
<text transform="translate(445.5,1518.36) scale(1,1.07)" font-size="30.5" text-anchor="end" fill="#000" >7</text>
<text transform="translate(445.5,1414.06) scale(1,1.07)" font-size="30.5" text-anchor="end" fill="#000" >8</text>
<text transform="translate(445.5,1309.76) scale(1,1.07)" font-size="30.5" text-anchor="end" fill="#000" >9</text>
<line x1="505.1" y1="1611.4" x2="505.1" y2="1621.4" stroke="#000" stroke-width="2" />
<line x1="573.7" y1="1611.4" x2="573.7" y2="1621.4" stroke="#000" stroke-width="2" />
<line x1="642.1" y1="1611.4" x2="642.1" y2="1621.4" stroke="#000" stroke-width="2" />
<text transform="translate(595.8,1232.5) rotate(-90)" font-size="42" letter-spacing="1.2" text-anchor="middle" class="st">***</text>
<text transform="translate(664.6,1293.3) rotate(-90)" font-size="42" letter-spacing="1.2" text-anchor="middle" class="st">****</text>
<text transform="translate(400,1410.4) rotate(-90) scale(1,1.045)" font-size="35" text-anchor="middle">pEC<tspan font-size="26" dy="10">50</tspan><tspan dy="-10">, M</tspan></text>
<line x1="845" y1="1317.8" x2="985" y2="1317.8" stroke="#000" stroke-width="4.1" stroke-linecap="round" stroke-dasharray="0 7.08"/>
<rect x="859.5" y="1317.8" width="40.2" height="293.6" fill="#e8e8e8" stroke="#999999" stroke-width="3.4"/>
<rect x="858.6" y="1335.42" width="42" height="275.98" fill="#777777" stroke="#333333" stroke-width="1.9"/>
<line x1="879.6" y1="1321.91" x2="879.6" y2="1348.64" stroke="#333333" stroke-width="2" stroke-linecap="butt"/>
<line x1="867.6" y1="1321.91" x2="891.6" y2="1321.91" stroke="#333333" stroke-width="2" stroke-linecap="butt"/>
<line x1="867.6" y1="1348.64" x2="891.6" y2="1348.64" stroke="#333333" stroke-width="2" stroke-linecap="butt"/>
<line x1="879.6" y1="1303.12" x2="879.6" y2="1330.43" stroke="#8c8c8c" stroke-width="3.2" stroke-linecap="round"/>
<line x1="867.6" y1="1303.12" x2="891.6" y2="1303.12" stroke="#8c8c8c" stroke-width="3.2" stroke-linecap="round"/>
<line x1="867.6" y1="1330.43" x2="891.6" y2="1330.43" stroke="#8c8c8c" stroke-width="3.2" stroke-linecap="round"/>
<rect x="922.7" y="1278.44" width="42" height="332.96" fill="#777777" stroke="#333333" stroke-width="1.9"/>
<rect x="923.6" y="1323.38" width="40.2" height="288.02" fill="#e8e8e8" stroke="#999999" stroke-width="3.4"/>
<line x1="943.7" y1="1224.7" x2="943.7" y2="1330.72" stroke="#333333" stroke-width="2" stroke-linecap="butt"/>
<line x1="931.7" y1="1224.7" x2="955.7" y2="1224.7" stroke="#333333" stroke-width="2" stroke-linecap="butt"/>
<line x1="931.7" y1="1330.72" x2="955.7" y2="1330.72" stroke="#333333" stroke-width="2" stroke-linecap="butt"/>
<line x1="943.7" y1="1307.81" x2="943.7" y2="1336.89" stroke="#8c8c8c" stroke-width="3.2" stroke-linecap="round"/>
<line x1="931.7" y1="1307.81" x2="955.7" y2="1307.81" stroke="#8c8c8c" stroke-width="3.2" stroke-linecap="round"/>
<line x1="931.7" y1="1336.89" x2="955.7" y2="1336.89" stroke="#8c8c8c" stroke-width="3.2" stroke-linecap="round"/>
<line x1="837.2" y1="1215.2" x2="837.2" y2="1612.4" stroke="#000" stroke-width="2" />
<line x1="827.7" y1="1611.4" x2="985.5" y2="1611.4" stroke="#000" stroke-width="2" />
<line x1="827.2" y1="1552.76" x2="837.2" y2="1552.76" stroke="#000" stroke-width="2" />
<line x1="827.2" y1="1494.02" x2="837.2" y2="1494.02" stroke="#000" stroke-width="2" />
<line x1="827.2" y1="1435.28" x2="837.2" y2="1435.28" stroke="#000" stroke-width="2" />
<line x1="827.2" y1="1376.54" x2="837.2" y2="1376.54" stroke="#000" stroke-width="2" />
<line x1="827.2" y1="1317.8" x2="837.2" y2="1317.8" stroke="#000" stroke-width="2" />
<line x1="827.2" y1="1259.06" x2="837.2" y2="1259.06" stroke="#000" stroke-width="2" />
<text transform="translate(822.5,1622.39) scale(1,1.07)" font-size="29.5" text-anchor="end" fill="#000" >0</text>
<text transform="translate(822.5,1563.65) scale(1,1.07)" font-size="29.5" text-anchor="end" fill="#000" >20</text>
<text transform="translate(822.5,1504.91) scale(1,1.07)" font-size="29.5" text-anchor="end" fill="#000" >40</text>
<text transform="translate(822.5,1446.17) scale(1,1.07)" font-size="29.5" text-anchor="end" fill="#000" >60</text>
<text transform="translate(822.5,1387.43) scale(1,1.07)" font-size="29.5" text-anchor="end" fill="#000" >80</text>
<text transform="translate(822.5,1328.69) scale(1,1.07)" font-size="29.5" text-anchor="end" fill="#000" >100</text>
<text transform="translate(822.5,1269.95) scale(1,1.07)" font-size="29.5" text-anchor="end" fill="#000" >120</text>
<line x1="878.7" y1="1611.4" x2="878.7" y2="1621.4" stroke="#000" stroke-width="2" />
<line x1="942.9" y1="1611.4" x2="942.9" y2="1621.4" stroke="#000" stroke-width="2" />
<text x="882.1" y="1298" font-size="42" text-anchor="middle" class="st">*</text>
<text x="943.3" y="1231" font-size="42" text-anchor="middle" class="st">*</text>
<text transform="translate(751.3,1412) rotate(-90) scale(1,1.045)" font-size="33.3" text-anchor="middle">E<tspan font-size="24" dy="9">MAX</tspan><tspan dy="-9">, % DAMGO</tspan></text>
<rect x="1193.1" y="1335.19" width="36.4" height="183.61" fill="#d4d4d4" stroke="#000" stroke-width="2"/>
<rect x="1249" y="1308.54" width="36.4" height="210.26" fill="#d4d4d4" stroke="#000" stroke-width="2"/>
<line x1="1109.3" y1="1518.8" x2="1304.5" y2="1518.8" stroke="#000" stroke-width="2" />
<line x1="1211.3" y1="1293.98" x2="1211.3" y2="1375.34" stroke="#000" stroke-width="2" stroke-linecap="butt"/>
<line x1="1201.8" y1="1293.98" x2="1220.8" y2="1293.98" stroke="#000" stroke-width="2" stroke-linecap="butt"/>
<line x1="1201.8" y1="1375.34" x2="1220.8" y2="1375.34" stroke="#000" stroke-width="2" stroke-linecap="butt"/>
<circle cx="1211.3" cy="1335.19" r="6.8" fill="#000"/>
<line x1="1267.2" y1="1255.35" x2="1267.2" y2="1360.43" stroke="#000" stroke-width="2" stroke-linecap="butt"/>
<line x1="1257.7" y1="1255.35" x2="1276.7" y2="1255.35" stroke="#000" stroke-width="2" stroke-linecap="butt"/>
<line x1="1257.7" y1="1360.43" x2="1276.7" y2="1360.43" stroke="#000" stroke-width="2" stroke-linecap="butt"/>
<circle cx="1267.2" cy="1308.54" r="6.8" fill="#000"/>
<circle cx="1155" cy="1518.8" r="6.8" fill="#000"/>
<line x1="1118.3" y1="1190.9" x2="1118.3" y2="1612.4" stroke="#000" stroke-width="2" />
<line x1="1117.3" y1="1611.4" x2="1304.5" y2="1611.4" stroke="#000" stroke-width="2" />
<line x1="1109.3" y1="1401.4" x2="1118.3" y2="1401.4" stroke="#000" stroke-width="2" />
<line x1="1109.3" y1="1284" x2="1118.3" y2="1284" stroke="#000" stroke-width="2" />
<text transform="translate(1104,1529.69) scale(1,1.07)" font-size="29.5" text-anchor="end" fill="#000" >0</text>
<text transform="translate(1104,1412.29) scale(1,1.07)" font-size="29.5" text-anchor="end" fill="#000" >1</text>
<text transform="translate(1104,1294.89) scale(1,1.07)" font-size="29.5" text-anchor="end" fill="#000" >2</text>
<line x1="1155" y1="1611.4" x2="1155" y2="1621.4" stroke="#000" stroke-width="2" />
<line x1="1210.6" y1="1611.4" x2="1210.6" y2="1621.4" stroke="#000" stroke-width="2" />
<line x1="1267.1" y1="1611.4" x2="1267.1" y2="1621.4" stroke="#000" stroke-width="2" />
<rect x="1206.7" y="1541.6" width="97.8" height="48.5" fill="#fff" stroke="#000" stroke-width="2.0"/>
<text transform="translate(1255.6,1575.86) scale(1,1.045)" font-size="29" text-anchor="middle" fill="#000" >hMOR</text>
<text transform="translate(1061.7,1553.9) rotate(-90) scale(1,1.045)" font-size="32" text-anchor="start">Δ<tspan dx="3">Δ</tspan><tspan dx="-1.5"> LogR</tspan><tspan font-size="23" font-style="italic" dy="8.8">(Release-Binding)</tspan></text>
<text transform="translate(511.1,1646) rotate(-45) scale(1,1.045)" font-size="31" text-anchor="end">DAMGO</text>
<text transform="translate(579.7,1646) rotate(-45) scale(1,1.045)" font-size="31" text-anchor="end">Muzepan1</text>
<text transform="translate(648.1,1646) rotate(-45) scale(1,1.045)" font-size="31" text-anchor="end">Muzepan2</text>
<text transform="translate(884.7,1646) rotate(-45) scale(1,1.045)" font-size="31" text-anchor="end">Muzepan1</text>
<text transform="translate(948.9,1646) rotate(-45) scale(1,1.045)" font-size="31" text-anchor="end">Muzepan2</text>
<text transform="translate(1161,1646) rotate(-45) scale(1,1.045)" font-size="32" text-anchor="end">DAMGO (ref)</text>
<text transform="translate(1216.6,1646) rotate(-45) scale(1,1.045)" font-size="32" text-anchor="end">Muzepan1</text>
<text transform="translate(1273.1,1646) rotate(-45) scale(1,1.045)" font-size="32" text-anchor="end">Muzepan2</text>
</svg></body></html>
